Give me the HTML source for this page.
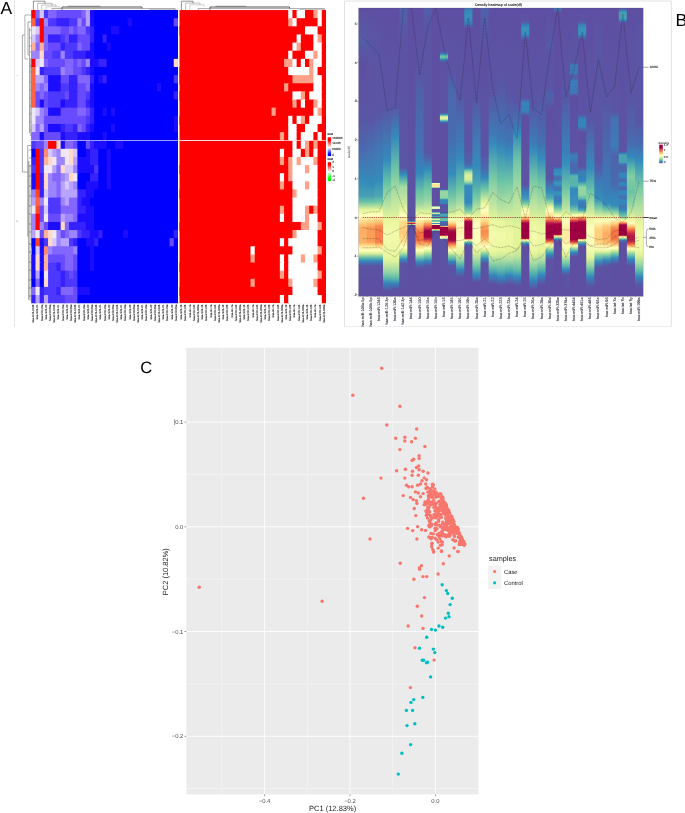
<!DOCTYPE html><html><head><meta charset="utf-8"><title>Figure</title><style>html,body{margin:0;padding:0;background:#fff;}svg{display:block}text{font-family:"Liberation Sans",sans-serif;}</style></head><body><svg width="685" height="813" viewBox="0 0 685 813" text-rendering="geometricPrecision"><rect width="685" height="813" fill="#fff"/><defs><filter id="sb" x="-2%" y="-2%" width="104%" height="104%"><feGaussianBlur stdDeviation="0.45"/></filter></defs><g id="panelA" filter="url(#sb)"><line x1="14.5" y1="0" x2="14.5" y2="327" stroke="#e6e6e6" stroke-width="1"/><clipPath id="qa0"><rect x="31.3" y="10.05" width="146.65" height="130.15"/></clipPath><g clip-path="url(#qa0)"><rect x="31.3" y="10.05" width="146.65" height="130.15" fill="#0000ff"/><rect x="31.30" y="10.05" width="5.19" height="9.13" fill="#ff0000"/><rect x="35.49" y="10.05" width="5.19" height="9.13" fill="#8266ff"/><rect x="39.68" y="10.05" width="5.19" height="9.13" fill="#d6c8ff"/><rect x="43.87" y="10.05" width="5.19" height="9.13" fill="#4e38ff"/><rect x="48.06" y="10.05" width="9.38" height="9.13" fill="#8266ff"/><rect x="56.44" y="10.05" width="26.14" height="9.13" fill="#684cff"/><rect x="81.58" y="10.05" width="5.19" height="9.13" fill="#8266ff"/><rect x="85.77" y="10.05" width="5.19" height="9.13" fill="#b8a2ff"/><rect x="89.96" y="10.05" width="5.19" height="9.13" fill="#1c0eff"/><rect x="94.15" y="10.05" width="84.80" height="9.13" fill="#0000ff"/><rect x="31.30" y="18.18" width="5.19" height="9.13" fill="#ff6444"/><rect x="35.49" y="18.18" width="5.19" height="9.13" fill="#4e38ff"/><rect x="39.68" y="18.18" width="5.19" height="9.13" fill="#ff0000"/><rect x="43.87" y="18.18" width="5.19" height="9.13" fill="#9c84ff"/><rect x="48.06" y="18.18" width="9.38" height="9.13" fill="#4e38ff"/><rect x="56.44" y="18.18" width="13.57" height="9.13" fill="#3420ff"/><rect x="69.01" y="18.18" width="9.38" height="9.13" fill="#4e38ff"/><rect x="77.39" y="18.18" width="5.19" height="9.13" fill="#9c84ff"/><rect x="81.58" y="18.18" width="5.19" height="9.13" fill="#684cff"/><rect x="85.77" y="18.18" width="5.19" height="9.13" fill="#b8a2ff"/><rect x="89.96" y="18.18" width="5.19" height="9.13" fill="#1c0eff"/><rect x="94.15" y="18.18" width="34.52" height="9.13" fill="#0000ff"/><rect x="127.67" y="18.18" width="5.19" height="9.13" fill="#1c0eff"/><rect x="131.86" y="18.18" width="42.90" height="9.13" fill="#0000ff"/><rect x="173.76" y="18.18" width="5.19" height="9.13" fill="#684cff"/><rect x="31.30" y="26.32" width="5.19" height="9.13" fill="#eee8f6"/><rect x="35.49" y="26.32" width="5.19" height="9.13" fill="#d6c8ff"/><rect x="39.68" y="26.32" width="5.19" height="9.13" fill="#ff0000"/><rect x="43.87" y="26.32" width="17.76" height="9.13" fill="#8266ff"/><rect x="60.63" y="26.32" width="9.38" height="9.13" fill="#684cff"/><rect x="69.01" y="26.32" width="5.19" height="9.13" fill="#8266ff"/><rect x="73.20" y="26.32" width="5.19" height="9.13" fill="#684cff"/><rect x="77.39" y="26.32" width="9.38" height="9.13" fill="#8266ff"/><rect x="85.77" y="26.32" width="5.19" height="9.13" fill="#4e38ff"/><rect x="89.96" y="26.32" width="5.19" height="9.13" fill="#3420ff"/><rect x="94.15" y="26.32" width="17.76" height="9.13" fill="#0000ff"/><rect x="110.91" y="26.32" width="9.38" height="9.13" fill="#1c0eff"/><rect x="119.29" y="26.32" width="59.66" height="9.13" fill="#0000ff"/><rect x="31.30" y="34.45" width="5.19" height="9.13" fill="#d6c8ff"/><rect x="35.49" y="34.45" width="5.19" height="9.13" fill="#9c84ff"/><rect x="39.68" y="34.45" width="5.19" height="9.13" fill="#ff0000"/><rect x="43.87" y="34.45" width="5.19" height="9.13" fill="#8266ff"/><rect x="48.06" y="34.45" width="13.57" height="9.13" fill="#3420ff"/><rect x="60.63" y="34.45" width="5.19" height="9.13" fill="#4e38ff"/><rect x="64.82" y="34.45" width="5.19" height="9.13" fill="#684cff"/><rect x="69.01" y="34.45" width="9.38" height="9.13" fill="#3420ff"/><rect x="77.39" y="34.45" width="13.57" height="9.13" fill="#684cff"/><rect x="89.96" y="34.45" width="5.19" height="9.13" fill="#3420ff"/><rect x="94.15" y="34.45" width="9.38" height="9.13" fill="#0000ff"/><rect x="102.53" y="34.45" width="5.19" height="9.13" fill="#3420ff"/><rect x="106.72" y="34.45" width="72.23" height="9.13" fill="#0000ff"/><rect x="31.30" y="42.59" width="5.19" height="9.13" fill="#ffb09a"/><rect x="35.49" y="42.59" width="5.19" height="9.13" fill="#8266ff"/><rect x="39.68" y="42.59" width="5.19" height="9.13" fill="#ffb09a"/><rect x="43.87" y="42.59" width="5.19" height="9.13" fill="#8266ff"/><rect x="48.06" y="42.59" width="13.57" height="9.13" fill="#684cff"/><rect x="60.63" y="42.59" width="5.19" height="9.13" fill="#3420ff"/><rect x="64.82" y="42.59" width="13.57" height="9.13" fill="#4e38ff"/><rect x="77.39" y="42.59" width="5.19" height="9.13" fill="#8266ff"/><rect x="81.58" y="42.59" width="9.38" height="9.13" fill="#684cff"/><rect x="89.96" y="42.59" width="5.19" height="9.13" fill="#1c0eff"/><rect x="94.15" y="42.59" width="13.57" height="9.13" fill="#0000ff"/><rect x="106.72" y="42.59" width="5.19" height="9.13" fill="#1c0eff"/><rect x="110.91" y="42.59" width="68.04" height="9.13" fill="#0000ff"/><rect x="31.30" y="50.72" width="9.38" height="9.13" fill="#9c84ff"/><rect x="39.68" y="50.72" width="5.19" height="9.13" fill="#ffd8c8"/><rect x="43.87" y="50.72" width="9.38" height="9.13" fill="#684cff"/><rect x="52.25" y="50.72" width="9.38" height="9.13" fill="#4e38ff"/><rect x="60.63" y="50.72" width="5.19" height="9.13" fill="#9c84ff"/><rect x="64.82" y="50.72" width="9.38" height="9.13" fill="#4e38ff"/><rect x="73.20" y="50.72" width="13.57" height="9.13" fill="#3420ff"/><rect x="85.77" y="50.72" width="9.38" height="9.13" fill="#1c0eff"/><rect x="94.15" y="50.72" width="84.80" height="9.13" fill="#0000ff"/><rect x="31.30" y="58.86" width="5.19" height="9.13" fill="#ff0000"/><rect x="35.49" y="58.86" width="5.19" height="9.13" fill="#d6c8ff"/><rect x="39.68" y="58.86" width="5.19" height="9.13" fill="#eee8f6"/><rect x="43.87" y="58.86" width="5.19" height="9.13" fill="#8266ff"/><rect x="48.06" y="58.86" width="17.76" height="9.13" fill="#684cff"/><rect x="64.82" y="58.86" width="9.38" height="9.13" fill="#8266ff"/><rect x="73.20" y="58.86" width="5.19" height="9.13" fill="#684cff"/><rect x="77.39" y="58.86" width="5.19" height="9.13" fill="#8266ff"/><rect x="81.58" y="58.86" width="5.19" height="9.13" fill="#684cff"/><rect x="85.77" y="58.86" width="5.19" height="9.13" fill="#9c84ff"/><rect x="89.96" y="58.86" width="9.38" height="9.13" fill="#1c0eff"/><rect x="98.34" y="58.86" width="9.38" height="9.13" fill="#3420ff"/><rect x="106.72" y="58.86" width="68.04" height="9.13" fill="#0000ff"/><rect x="173.76" y="58.86" width="5.19" height="9.13" fill="#ffd8c8"/><rect x="31.30" y="66.99" width="5.19" height="9.13" fill="#ff6444"/><rect x="35.49" y="66.99" width="5.19" height="9.13" fill="#eee8f6"/><rect x="39.68" y="66.99" width="5.19" height="9.13" fill="#3420ff"/><rect x="43.87" y="66.99" width="17.76" height="9.13" fill="#4e38ff"/><rect x="60.63" y="66.99" width="5.19" height="9.13" fill="#9c84ff"/><rect x="64.82" y="66.99" width="9.38" height="9.13" fill="#8266ff"/><rect x="73.20" y="66.99" width="9.38" height="9.13" fill="#684cff"/><rect x="81.58" y="66.99" width="5.19" height="9.13" fill="#4e38ff"/><rect x="85.77" y="66.99" width="5.19" height="9.13" fill="#3420ff"/><rect x="89.96" y="66.99" width="5.19" height="9.13" fill="#1c0eff"/><rect x="94.15" y="66.99" width="84.80" height="9.13" fill="#0000ff"/><rect x="31.30" y="75.12" width="5.19" height="9.13" fill="#ff6444"/><rect x="35.49" y="75.12" width="9.38" height="9.13" fill="#b8a2ff"/><rect x="43.87" y="75.12" width="5.19" height="9.13" fill="#8266ff"/><rect x="48.06" y="75.12" width="13.57" height="9.13" fill="#1c0eff"/><rect x="60.63" y="75.12" width="9.38" height="9.13" fill="#684cff"/><rect x="69.01" y="75.12" width="9.38" height="9.13" fill="#3420ff"/><rect x="77.39" y="75.12" width="13.57" height="9.13" fill="#8266ff"/><rect x="89.96" y="75.12" width="5.19" height="9.13" fill="#3420ff"/><rect x="94.15" y="75.12" width="5.19" height="9.13" fill="#0000ff"/><rect x="98.34" y="75.12" width="5.19" height="9.13" fill="#1c0eff"/><rect x="102.53" y="75.12" width="5.19" height="9.13" fill="#3420ff"/><rect x="106.72" y="75.12" width="68.04" height="9.13" fill="#0000ff"/><rect x="173.76" y="75.12" width="5.19" height="9.13" fill="#4e38ff"/><rect x="31.30" y="83.26" width="5.19" height="9.13" fill="#ff6444"/><rect x="35.49" y="83.26" width="5.19" height="9.13" fill="#9c84ff"/><rect x="39.68" y="83.26" width="5.19" height="9.13" fill="#8266ff"/><rect x="43.87" y="83.26" width="5.19" height="9.13" fill="#9c84ff"/><rect x="48.06" y="83.26" width="13.57" height="9.13" fill="#1c0eff"/><rect x="60.63" y="83.26" width="9.38" height="9.13" fill="#4e38ff"/><rect x="69.01" y="83.26" width="9.38" height="9.13" fill="#3420ff"/><rect x="77.39" y="83.26" width="9.38" height="9.13" fill="#684cff"/><rect x="85.77" y="83.26" width="5.19" height="9.13" fill="#8266ff"/><rect x="89.96" y="83.26" width="5.19" height="9.13" fill="#1c0eff"/><rect x="94.15" y="83.26" width="63.85" height="9.13" fill="#0000ff"/><rect x="157.00" y="83.26" width="5.19" height="9.13" fill="#1c0eff"/><rect x="161.19" y="83.26" width="17.76" height="9.13" fill="#0000ff"/><rect x="31.30" y="91.39" width="5.19" height="9.13" fill="#ff6444"/><rect x="35.49" y="91.39" width="5.19" height="9.13" fill="#684cff"/><rect x="39.68" y="91.39" width="5.19" height="9.13" fill="#8266ff"/><rect x="43.87" y="91.39" width="5.19" height="9.13" fill="#684cff"/><rect x="48.06" y="91.39" width="17.76" height="9.13" fill="#4e38ff"/><rect x="64.82" y="91.39" width="5.19" height="9.13" fill="#684cff"/><rect x="69.01" y="91.39" width="9.38" height="9.13" fill="#3420ff"/><rect x="77.39" y="91.39" width="9.38" height="9.13" fill="#684cff"/><rect x="85.77" y="91.39" width="5.19" height="9.13" fill="#4e38ff"/><rect x="89.96" y="91.39" width="5.19" height="9.13" fill="#1c0eff"/><rect x="94.15" y="91.39" width="80.61" height="9.13" fill="#0000ff"/><rect x="173.76" y="91.39" width="5.19" height="9.13" fill="#3420ff"/><rect x="31.30" y="99.53" width="5.19" height="9.13" fill="#ff6444"/><rect x="35.49" y="99.53" width="5.19" height="9.13" fill="#684cff"/><rect x="39.68" y="99.53" width="5.19" height="9.13" fill="#1c0eff"/><rect x="43.87" y="99.53" width="5.19" height="9.13" fill="#684cff"/><rect x="48.06" y="99.53" width="13.57" height="9.13" fill="#4e38ff"/><rect x="60.63" y="99.53" width="5.19" height="9.13" fill="#1c0eff"/><rect x="64.82" y="99.53" width="13.57" height="9.13" fill="#3420ff"/><rect x="77.39" y="99.53" width="9.38" height="9.13" fill="#684cff"/><rect x="85.77" y="99.53" width="5.19" height="9.13" fill="#3420ff"/><rect x="89.96" y="99.53" width="5.19" height="9.13" fill="#1c0eff"/><rect x="94.15" y="99.53" width="84.80" height="9.13" fill="#0000ff"/><rect x="31.30" y="107.66" width="5.19" height="9.13" fill="#eee8f6"/><rect x="35.49" y="107.66" width="5.19" height="9.13" fill="#d6c8ff"/><rect x="39.68" y="107.66" width="5.19" height="9.13" fill="#9c84ff"/><rect x="43.87" y="107.66" width="5.19" height="9.13" fill="#8266ff"/><rect x="48.06" y="107.66" width="13.57" height="9.13" fill="#1c0eff"/><rect x="60.63" y="107.66" width="17.76" height="9.13" fill="#684cff"/><rect x="77.39" y="107.66" width="9.38" height="9.13" fill="#8266ff"/><rect x="85.77" y="107.66" width="5.19" height="9.13" fill="#684cff"/><rect x="89.96" y="107.66" width="5.19" height="9.13" fill="#3420ff"/><rect x="94.15" y="107.66" width="9.38" height="9.13" fill="#0000ff"/><rect x="102.53" y="107.66" width="5.19" height="9.13" fill="#1c0eff"/><rect x="106.72" y="107.66" width="5.19" height="9.13" fill="#0000ff"/><rect x="110.91" y="107.66" width="5.19" height="9.13" fill="#1c0eff"/><rect x="115.10" y="107.66" width="63.85" height="9.13" fill="#0000ff"/><rect x="31.30" y="115.80" width="5.19" height="9.13" fill="#eee8f6"/><rect x="35.49" y="115.80" width="9.38" height="9.13" fill="#9c84ff"/><rect x="43.87" y="115.80" width="42.90" height="9.13" fill="#684cff"/><rect x="85.77" y="115.80" width="5.19" height="9.13" fill="#4e38ff"/><rect x="89.96" y="115.80" width="5.19" height="9.13" fill="#3420ff"/><rect x="94.15" y="115.80" width="80.61" height="9.13" fill="#0000ff"/><rect x="173.76" y="115.80" width="5.19" height="9.13" fill="#1c0eff"/><rect x="31.30" y="123.93" width="5.19" height="9.13" fill="#d6c8ff"/><rect x="35.49" y="123.93" width="5.19" height="9.13" fill="#8266ff"/><rect x="39.68" y="123.93" width="5.19" height="9.13" fill="#b8a2ff"/><rect x="43.87" y="123.93" width="5.19" height="9.13" fill="#684cff"/><rect x="48.06" y="123.93" width="13.57" height="9.13" fill="#1c0eff"/><rect x="60.63" y="123.93" width="5.19" height="9.13" fill="#3420ff"/><rect x="64.82" y="123.93" width="9.38" height="9.13" fill="#4e38ff"/><rect x="73.20" y="123.93" width="5.19" height="9.13" fill="#3420ff"/><rect x="77.39" y="123.93" width="5.19" height="9.13" fill="#8266ff"/><rect x="81.58" y="123.93" width="5.19" height="9.13" fill="#684cff"/><rect x="85.77" y="123.93" width="5.19" height="9.13" fill="#3420ff"/><rect x="89.96" y="123.93" width="5.19" height="9.13" fill="#1c0eff"/><rect x="94.15" y="123.93" width="17.76" height="9.13" fill="#0000ff"/><rect x="110.91" y="123.93" width="5.19" height="9.13" fill="#1c0eff"/><rect x="115.10" y="123.93" width="59.66" height="9.13" fill="#0000ff"/><rect x="173.76" y="123.93" width="5.19" height="9.13" fill="#1c0eff"/><rect x="31.30" y="132.07" width="9.38" height="9.13" fill="#8266ff"/><rect x="39.68" y="132.07" width="5.19" height="9.13" fill="#1c0eff"/><rect x="43.87" y="132.07" width="17.76" height="9.13" fill="#684cff"/><rect x="60.63" y="132.07" width="5.19" height="9.13" fill="#1c0eff"/><rect x="64.82" y="132.07" width="13.57" height="9.13" fill="#3420ff"/><rect x="77.39" y="132.07" width="13.57" height="9.13" fill="#1c0eff"/><rect x="89.96" y="132.07" width="13.57" height="9.13" fill="#0000ff"/><rect x="102.53" y="132.07" width="5.19" height="9.13" fill="#1c0eff"/><rect x="106.72" y="132.07" width="72.23" height="9.13" fill="#0000ff"/></g><clipPath id="qa1"><rect x="31.3" y="140.70" width="146.65" height="162.45"/></clipPath><g clip-path="url(#qa1)"><rect x="31.3" y="140.70" width="146.65" height="162.45" fill="#0000ff"/><rect x="31.30" y="140.70" width="5.19" height="9.12" fill="#4e38ff"/><rect x="35.49" y="140.70" width="9.38" height="9.12" fill="#684cff"/><rect x="43.87" y="140.70" width="5.19" height="9.12" fill="#9c84ff"/><rect x="48.06" y="140.70" width="9.38" height="9.12" fill="#ff0000"/><rect x="56.44" y="140.70" width="5.19" height="9.12" fill="#ffd8c8"/><rect x="60.63" y="140.70" width="5.19" height="9.12" fill="#1c0eff"/><rect x="64.82" y="140.70" width="9.38" height="9.12" fill="#8266ff"/><rect x="73.20" y="140.70" width="5.19" height="9.12" fill="#684cff"/><rect x="77.39" y="140.70" width="9.38" height="9.12" fill="#0000ff"/><rect x="85.77" y="140.70" width="5.19" height="9.12" fill="#684cff"/><rect x="89.96" y="140.70" width="5.19" height="9.12" fill="#3420ff"/><rect x="94.15" y="140.70" width="13.57" height="9.12" fill="#1c0eff"/><rect x="106.72" y="140.70" width="9.38" height="9.12" fill="#0000ff"/><rect x="115.10" y="140.70" width="9.38" height="9.12" fill="#1c0eff"/><rect x="123.48" y="140.70" width="55.47" height="9.12" fill="#0000ff"/><rect x="31.30" y="148.82" width="5.19" height="9.12" fill="#0000ff"/><rect x="35.49" y="148.82" width="5.19" height="9.12" fill="#ff0000"/><rect x="39.68" y="148.82" width="5.19" height="9.12" fill="#4e38ff"/><rect x="43.87" y="148.82" width="5.19" height="9.12" fill="#ff8a70"/><rect x="48.06" y="148.82" width="5.19" height="9.12" fill="#d6c8ff"/><rect x="52.25" y="148.82" width="5.19" height="9.12" fill="#b8a2ff"/><rect x="56.44" y="148.82" width="5.19" height="9.12" fill="#9c84ff"/><rect x="60.63" y="148.82" width="9.38" height="9.12" fill="#eee8f6"/><rect x="69.01" y="148.82" width="5.19" height="9.12" fill="#ffd8c8"/><rect x="73.20" y="148.82" width="5.19" height="9.12" fill="#d6c8ff"/><rect x="77.39" y="148.82" width="9.38" height="9.12" fill="#0000ff"/><rect x="85.77" y="148.82" width="5.19" height="9.12" fill="#1c0eff"/><rect x="89.96" y="148.82" width="9.38" height="9.12" fill="#3420ff"/><rect x="98.34" y="148.82" width="9.38" height="9.12" fill="#0000ff"/><rect x="106.72" y="148.82" width="5.19" height="9.12" fill="#1c0eff"/><rect x="110.91" y="148.82" width="68.04" height="9.12" fill="#0000ff"/><rect x="31.30" y="156.94" width="5.19" height="9.12" fill="#3420ff"/><rect x="35.49" y="156.94" width="5.19" height="9.12" fill="#ff0000"/><rect x="39.68" y="156.94" width="5.19" height="9.12" fill="#4e38ff"/><rect x="43.87" y="156.94" width="5.19" height="9.12" fill="#ffb09a"/><rect x="48.06" y="156.94" width="5.19" height="9.12" fill="#ffd8c8"/><rect x="52.25" y="156.94" width="5.19" height="9.12" fill="#eee8f6"/><rect x="56.44" y="156.94" width="9.38" height="9.12" fill="#9c84ff"/><rect x="64.82" y="156.94" width="5.19" height="9.12" fill="#eee8f6"/><rect x="69.01" y="156.94" width="5.19" height="9.12" fill="#ffd8c8"/><rect x="73.20" y="156.94" width="5.19" height="9.12" fill="#b8a2ff"/><rect x="77.39" y="156.94" width="13.57" height="9.12" fill="#1c0eff"/><rect x="89.96" y="156.94" width="9.38" height="9.12" fill="#3420ff"/><rect x="98.34" y="156.94" width="9.38" height="9.12" fill="#0000ff"/><rect x="106.72" y="156.94" width="5.19" height="9.12" fill="#1c0eff"/><rect x="110.91" y="156.94" width="68.04" height="9.12" fill="#0000ff"/><rect x="31.30" y="165.07" width="5.19" height="9.12" fill="#4e38ff"/><rect x="35.49" y="165.07" width="5.19" height="9.12" fill="#ff0000"/><rect x="39.68" y="165.07" width="5.19" height="9.12" fill="#4e38ff"/><rect x="43.87" y="165.07" width="9.38" height="9.12" fill="#eee8f6"/><rect x="52.25" y="165.07" width="5.19" height="9.12" fill="#b8a2ff"/><rect x="56.44" y="165.07" width="5.19" height="9.12" fill="#8266ff"/><rect x="60.63" y="165.07" width="5.19" height="9.12" fill="#ffd8c8"/><rect x="64.82" y="165.07" width="9.38" height="9.12" fill="#d6c8ff"/><rect x="73.20" y="165.07" width="5.19" height="9.12" fill="#9c84ff"/><rect x="77.39" y="165.07" width="17.76" height="9.12" fill="#1c0eff"/><rect x="94.15" y="165.07" width="5.19" height="9.12" fill="#4e38ff"/><rect x="98.34" y="165.07" width="9.38" height="9.12" fill="#0000ff"/><rect x="106.72" y="165.07" width="5.19" height="9.12" fill="#1c0eff"/><rect x="110.91" y="165.07" width="68.04" height="9.12" fill="#0000ff"/><rect x="31.30" y="173.19" width="5.19" height="9.12" fill="#1c0eff"/><rect x="35.49" y="173.19" width="5.19" height="9.12" fill="#ff0000"/><rect x="39.68" y="173.19" width="5.19" height="9.12" fill="#3420ff"/><rect x="43.87" y="173.19" width="5.19" height="9.12" fill="#ffd8c8"/><rect x="48.06" y="173.19" width="5.19" height="9.12" fill="#9c84ff"/><rect x="52.25" y="173.19" width="9.38" height="9.12" fill="#8266ff"/><rect x="60.63" y="173.19" width="5.19" height="9.12" fill="#9c84ff"/><rect x="64.82" y="173.19" width="5.19" height="9.12" fill="#b8a2ff"/><rect x="69.01" y="173.19" width="5.19" height="9.12" fill="#ffd8c8"/><rect x="73.20" y="173.19" width="5.19" height="9.12" fill="#eee8f6"/><rect x="77.39" y="173.19" width="13.57" height="9.12" fill="#0000ff"/><rect x="89.96" y="173.19" width="9.38" height="9.12" fill="#3420ff"/><rect x="98.34" y="173.19" width="9.38" height="9.12" fill="#0000ff"/><rect x="106.72" y="173.19" width="5.19" height="9.12" fill="#1c0eff"/><rect x="110.91" y="173.19" width="68.04" height="9.12" fill="#0000ff"/><rect x="31.30" y="181.31" width="5.19" height="9.12" fill="#1c0eff"/><rect x="35.49" y="181.31" width="5.19" height="9.12" fill="#ff0000"/><rect x="39.68" y="181.31" width="5.19" height="9.12" fill="#3420ff"/><rect x="43.87" y="181.31" width="5.19" height="9.12" fill="#ffd8c8"/><rect x="48.06" y="181.31" width="9.38" height="9.12" fill="#9c84ff"/><rect x="56.44" y="181.31" width="5.19" height="9.12" fill="#8266ff"/><rect x="60.63" y="181.31" width="5.19" height="9.12" fill="#b8a2ff"/><rect x="64.82" y="181.31" width="5.19" height="9.12" fill="#d6c8ff"/><rect x="69.01" y="181.31" width="5.19" height="9.12" fill="#b8a2ff"/><rect x="73.20" y="181.31" width="5.19" height="9.12" fill="#9c84ff"/><rect x="77.39" y="181.31" width="9.38" height="9.12" fill="#0000ff"/><rect x="85.77" y="181.31" width="13.57" height="9.12" fill="#1c0eff"/><rect x="98.34" y="181.31" width="9.38" height="9.12" fill="#0000ff"/><rect x="106.72" y="181.31" width="5.19" height="9.12" fill="#1c0eff"/><rect x="110.91" y="181.31" width="68.04" height="9.12" fill="#0000ff"/><rect x="31.30" y="189.44" width="5.19" height="9.12" fill="#9c84ff"/><rect x="35.49" y="189.44" width="5.19" height="9.12" fill="#ff4626"/><rect x="39.68" y="189.44" width="5.19" height="9.12" fill="#3420ff"/><rect x="43.87" y="189.44" width="5.19" height="9.12" fill="#d6c8ff"/><rect x="48.06" y="189.44" width="9.38" height="9.12" fill="#9c84ff"/><rect x="56.44" y="189.44" width="5.19" height="9.12" fill="#8266ff"/><rect x="60.63" y="189.44" width="17.76" height="9.12" fill="#b8a2ff"/><rect x="77.39" y="189.44" width="9.38" height="9.12" fill="#3420ff"/><rect x="85.77" y="189.44" width="9.38" height="9.12" fill="#1c0eff"/><rect x="94.15" y="189.44" width="84.80" height="9.12" fill="#0000ff"/><rect x="31.30" y="197.56" width="5.19" height="9.12" fill="#b8a2ff"/><rect x="35.49" y="197.56" width="5.19" height="9.12" fill="#ff6444"/><rect x="39.68" y="197.56" width="5.19" height="9.12" fill="#9c84ff"/><rect x="43.87" y="197.56" width="5.19" height="9.12" fill="#eee8f6"/><rect x="48.06" y="197.56" width="13.57" height="9.12" fill="#4e38ff"/><rect x="60.63" y="197.56" width="5.19" height="9.12" fill="#9c84ff"/><rect x="64.82" y="197.56" width="5.19" height="9.12" fill="#b8a2ff"/><rect x="69.01" y="197.56" width="9.38" height="9.12" fill="#8266ff"/><rect x="77.39" y="197.56" width="5.19" height="9.12" fill="#3420ff"/><rect x="81.58" y="197.56" width="9.38" height="9.12" fill="#1c0eff"/><rect x="89.96" y="197.56" width="88.99" height="9.12" fill="#0000ff"/><rect x="31.30" y="205.68" width="5.19" height="9.12" fill="#eee8f6"/><rect x="35.49" y="205.68" width="5.19" height="9.12" fill="#ff4626"/><rect x="39.68" y="205.68" width="5.19" height="9.12" fill="#684cff"/><rect x="43.87" y="205.68" width="5.19" height="9.12" fill="#d6c8ff"/><rect x="48.06" y="205.68" width="13.57" height="9.12" fill="#4e38ff"/><rect x="60.63" y="205.68" width="17.76" height="9.12" fill="#8266ff"/><rect x="77.39" y="205.68" width="9.38" height="9.12" fill="#3420ff"/><rect x="85.77" y="205.68" width="9.38" height="9.12" fill="#1c0eff"/><rect x="94.15" y="205.68" width="84.80" height="9.12" fill="#0000ff"/><rect x="31.30" y="213.80" width="5.19" height="9.12" fill="#9c84ff"/><rect x="35.49" y="213.80" width="5.19" height="9.12" fill="#ff0000"/><rect x="39.68" y="213.80" width="5.19" height="9.12" fill="#684cff"/><rect x="43.87" y="213.80" width="5.19" height="9.12" fill="#eee8f6"/><rect x="48.06" y="213.80" width="13.57" height="9.12" fill="#684cff"/><rect x="60.63" y="213.80" width="5.19" height="9.12" fill="#b8a2ff"/><rect x="64.82" y="213.80" width="9.38" height="9.12" fill="#9c84ff"/><rect x="73.20" y="213.80" width="5.19" height="9.12" fill="#8266ff"/><rect x="77.39" y="213.80" width="17.76" height="9.12" fill="#1c0eff"/><rect x="94.15" y="213.80" width="84.80" height="9.12" fill="#0000ff"/><rect x="31.30" y="221.92" width="5.19" height="9.12" fill="#9c84ff"/><rect x="35.49" y="221.92" width="5.19" height="9.12" fill="#ff0000"/><rect x="39.68" y="221.92" width="5.19" height="9.12" fill="#9c84ff"/><rect x="43.87" y="221.92" width="5.19" height="9.12" fill="#684cff"/><rect x="48.06" y="221.92" width="13.57" height="9.12" fill="#1c0eff"/><rect x="60.63" y="221.92" width="5.19" height="9.12" fill="#ffd8c8"/><rect x="64.82" y="221.92" width="5.19" height="9.12" fill="#8266ff"/><rect x="69.01" y="221.92" width="17.76" height="9.12" fill="#3420ff"/><rect x="85.77" y="221.92" width="9.38" height="9.12" fill="#1c0eff"/><rect x="94.15" y="221.92" width="84.80" height="9.12" fill="#0000ff"/><rect x="31.30" y="230.05" width="5.19" height="9.12" fill="#b8a2ff"/><rect x="35.49" y="230.05" width="5.19" height="9.12" fill="#eee8f6"/><rect x="39.68" y="230.05" width="5.19" height="9.12" fill="#684cff"/><rect x="43.87" y="230.05" width="5.19" height="9.12" fill="#ffb09a"/><rect x="48.06" y="230.05" width="5.19" height="9.12" fill="#ffd8c8"/><rect x="52.25" y="230.05" width="5.19" height="9.12" fill="#eee8f6"/><rect x="56.44" y="230.05" width="5.19" height="9.12" fill="#9c84ff"/><rect x="60.63" y="230.05" width="5.19" height="9.12" fill="#684cff"/><rect x="64.82" y="230.05" width="5.19" height="9.12" fill="#8266ff"/><rect x="69.01" y="230.05" width="9.38" height="9.12" fill="#9c84ff"/><rect x="77.39" y="230.05" width="5.19" height="9.12" fill="#4e38ff"/><rect x="81.58" y="230.05" width="9.38" height="9.12" fill="#3420ff"/><rect x="89.96" y="230.05" width="9.38" height="9.12" fill="#1c0eff"/><rect x="98.34" y="230.05" width="5.19" height="9.12" fill="#3420ff"/><rect x="102.53" y="230.05" width="21.95" height="9.12" fill="#0000ff"/><rect x="123.48" y="230.05" width="5.19" height="9.12" fill="#1c0eff"/><rect x="127.67" y="230.05" width="47.09" height="9.12" fill="#0000ff"/><rect x="173.76" y="230.05" width="5.19" height="9.12" fill="#3420ff"/><rect x="31.30" y="238.17" width="5.19" height="9.12" fill="#0000ff"/><rect x="35.49" y="238.17" width="5.19" height="9.12" fill="#ff4626"/><rect x="39.68" y="238.17" width="5.19" height="9.12" fill="#1c0eff"/><rect x="43.87" y="238.17" width="5.19" height="9.12" fill="#4e38ff"/><rect x="48.06" y="238.17" width="5.19" height="9.12" fill="#ffd8c8"/><rect x="52.25" y="238.17" width="5.19" height="9.12" fill="#d6c8ff"/><rect x="56.44" y="238.17" width="5.19" height="9.12" fill="#9c84ff"/><rect x="60.63" y="238.17" width="9.38" height="9.12" fill="#b8a2ff"/><rect x="69.01" y="238.17" width="5.19" height="9.12" fill="#4e38ff"/><rect x="73.20" y="238.17" width="5.19" height="9.12" fill="#3420ff"/><rect x="77.39" y="238.17" width="9.38" height="9.12" fill="#0000ff"/><rect x="85.77" y="238.17" width="9.38" height="9.12" fill="#1c0eff"/><rect x="94.15" y="238.17" width="5.19" height="9.12" fill="#3420ff"/><rect x="98.34" y="238.17" width="72.23" height="9.12" fill="#0000ff"/><rect x="169.57" y="238.17" width="5.19" height="9.12" fill="#684cff"/><rect x="173.76" y="238.17" width="5.19" height="9.12" fill="#0000ff"/><rect x="35.49" y="246.29" width="5.19" height="9.12" fill="#d6c8ff"/><rect x="39.68" y="246.29" width="5.19" height="9.12" fill="#1c0eff"/><rect x="43.87" y="246.29" width="5.19" height="9.12" fill="#ff8a70"/><rect x="48.06" y="246.29" width="5.19" height="9.12" fill="#9c84ff"/><rect x="52.25" y="246.29" width="21.95" height="9.12" fill="#8266ff"/><rect x="73.20" y="246.29" width="5.19" height="9.12" fill="#9c84ff"/><rect x="77.39" y="246.29" width="13.57" height="9.12" fill="#0000ff"/><rect x="89.96" y="246.29" width="5.19" height="9.12" fill="#1c0eff"/><rect x="94.15" y="246.29" width="84.80" height="9.12" fill="#0000ff"/><rect x="31.30" y="254.41" width="5.19" height="9.12" fill="#1c0eff"/><rect x="35.49" y="254.41" width="5.19" height="9.12" fill="#ffd8c8"/><rect x="39.68" y="254.41" width="5.19" height="9.12" fill="#1c0eff"/><rect x="43.87" y="254.41" width="5.19" height="9.12" fill="#ffb09a"/><rect x="48.06" y="254.41" width="17.76" height="9.12" fill="#684cff"/><rect x="64.82" y="254.41" width="9.38" height="9.12" fill="#8266ff"/><rect x="73.20" y="254.41" width="5.19" height="9.12" fill="#684cff"/><rect x="77.39" y="254.41" width="13.57" height="9.12" fill="#0000ff"/><rect x="89.96" y="254.41" width="5.19" height="9.12" fill="#1c0eff"/><rect x="94.15" y="254.41" width="84.80" height="9.12" fill="#0000ff"/><rect x="31.30" y="262.54" width="5.19" height="9.12" fill="#1c0eff"/><rect x="35.49" y="262.54" width="5.19" height="9.12" fill="#ffd8c8"/><rect x="39.68" y="262.54" width="5.19" height="9.12" fill="#1c0eff"/><rect x="43.87" y="262.54" width="5.19" height="9.12" fill="#ffb09a"/><rect x="48.06" y="262.54" width="9.38" height="9.12" fill="#4e38ff"/><rect x="56.44" y="262.54" width="5.19" height="9.12" fill="#3420ff"/><rect x="60.63" y="262.54" width="5.19" height="9.12" fill="#684cff"/><rect x="64.82" y="262.54" width="9.38" height="9.12" fill="#8266ff"/><rect x="73.20" y="262.54" width="5.19" height="9.12" fill="#684cff"/><rect x="77.39" y="262.54" width="13.57" height="9.12" fill="#0000ff"/><rect x="89.96" y="262.54" width="5.19" height="9.12" fill="#1c0eff"/><rect x="94.15" y="262.54" width="84.80" height="9.12" fill="#0000ff"/><rect x="31.30" y="270.66" width="5.19" height="9.12" fill="#1c0eff"/><rect x="35.49" y="270.66" width="5.19" height="9.12" fill="#b8a2ff"/><rect x="39.68" y="270.66" width="5.19" height="9.12" fill="#0000ff"/><rect x="43.87" y="270.66" width="5.19" height="9.12" fill="#eee8f6"/><rect x="48.06" y="270.66" width="13.57" height="9.12" fill="#4e38ff"/><rect x="60.63" y="270.66" width="5.19" height="9.12" fill="#3420ff"/><rect x="64.82" y="270.66" width="5.19" height="9.12" fill="#4e38ff"/><rect x="69.01" y="270.66" width="5.19" height="9.12" fill="#684cff"/><rect x="73.20" y="270.66" width="5.19" height="9.12" fill="#4e38ff"/><rect x="77.39" y="270.66" width="101.56" height="9.12" fill="#0000ff"/><rect x="31.30" y="278.78" width="5.19" height="9.12" fill="#0000ff"/><rect x="35.49" y="278.78" width="5.19" height="9.12" fill="#8266ff"/><rect x="39.68" y="278.78" width="5.19" height="9.12" fill="#0000ff"/><rect x="43.87" y="278.78" width="5.19" height="9.12" fill="#ffd8c8"/><rect x="48.06" y="278.78" width="13.57" height="9.12" fill="#4e38ff"/><rect x="60.63" y="278.78" width="5.19" height="9.12" fill="#3420ff"/><rect x="64.82" y="278.78" width="13.57" height="9.12" fill="#4e38ff"/><rect x="77.39" y="278.78" width="101.56" height="9.12" fill="#0000ff"/><rect x="31.30" y="286.90" width="5.19" height="9.12" fill="#8266ff"/><rect x="35.49" y="286.90" width="5.19" height="9.12" fill="#eee8f6"/><rect x="39.68" y="286.90" width="5.19" height="9.12" fill="#3420ff"/><rect x="43.87" y="286.90" width="13.57" height="9.12" fill="#4e38ff"/><rect x="56.44" y="286.90" width="5.19" height="9.12" fill="#3420ff"/><rect x="60.63" y="286.90" width="13.57" height="9.12" fill="#8266ff"/><rect x="73.20" y="286.90" width="5.19" height="9.12" fill="#684cff"/><rect x="77.39" y="286.90" width="13.57" height="9.12" fill="#1c0eff"/><rect x="89.96" y="286.90" width="88.99" height="9.12" fill="#0000ff"/><rect x="31.30" y="295.03" width="5.19" height="9.12" fill="#3420ff"/><rect x="35.49" y="295.03" width="5.19" height="9.12" fill="#b8a2ff"/><rect x="39.68" y="295.03" width="5.19" height="9.12" fill="#3420ff"/><rect x="43.87" y="295.03" width="5.19" height="9.12" fill="#b8a2ff"/><rect x="48.06" y="295.03" width="17.76" height="9.12" fill="#4e38ff"/><rect x="64.82" y="295.03" width="13.57" height="9.12" fill="#684cff"/><rect x="77.39" y="295.03" width="101.56" height="9.12" fill="#0000ff"/></g><clipPath id="qa2"><rect x="179.3" y="10.05" width="146.65" height="130.15"/></clipPath><g clip-path="url(#qa2)"><rect x="179.3" y="10.05" width="146.65" height="130.15" fill="#ff0000"/><rect x="288.24" y="10.05" width="5.19" height="9.13" fill="#ffffff"/><rect x="292.43" y="10.05" width="5.19" height="9.13" fill="#ff0000"/><rect x="296.62" y="10.05" width="9.38" height="9.13" fill="#ffffff"/><rect x="305.00" y="10.05" width="9.38" height="9.13" fill="#ff0000"/><rect x="313.38" y="10.05" width="5.19" height="9.13" fill="#ffa088"/><rect x="317.57" y="10.05" width="5.19" height="9.13" fill="#ffffff"/><rect x="321.76" y="10.05" width="5.19" height="9.13" fill="#ff0000"/><rect x="288.24" y="18.18" width="5.19" height="9.13" fill="#ffa088"/><rect x="292.43" y="18.18" width="5.19" height="9.13" fill="#ffffff"/><rect x="296.62" y="18.18" width="21.95" height="9.13" fill="#ff0000"/><rect x="317.57" y="18.18" width="5.19" height="9.13" fill="#ffffff"/><rect x="321.76" y="18.18" width="5.19" height="9.13" fill="#ff0000"/><rect x="179.30" y="26.32" width="126.70" height="9.13" fill="#ff0000"/><rect x="305.00" y="26.32" width="13.57" height="9.13" fill="#ffffff"/><rect x="317.57" y="26.32" width="9.38" height="9.13" fill="#ff0000"/><rect x="296.62" y="34.45" width="5.19" height="9.13" fill="#ffffff"/><rect x="300.81" y="34.45" width="13.57" height="9.13" fill="#ff0000"/><rect x="313.38" y="34.45" width="5.19" height="9.13" fill="#ffffff"/><rect x="317.57" y="34.45" width="5.19" height="9.13" fill="#ffa088"/><rect x="321.76" y="34.45" width="5.19" height="9.13" fill="#ff0000"/><rect x="292.43" y="42.59" width="5.19" height="9.13" fill="#ffffff"/><rect x="296.62" y="42.59" width="5.19" height="9.13" fill="#ffa088"/><rect x="300.81" y="42.59" width="13.57" height="9.13" fill="#ff0000"/><rect x="313.38" y="42.59" width="9.38" height="9.13" fill="#ffffff"/><rect x="321.76" y="42.59" width="5.19" height="9.13" fill="#ff0000"/><rect x="288.24" y="50.72" width="5.19" height="9.13" fill="#ffffff"/><rect x="292.43" y="50.72" width="13.57" height="9.13" fill="#ff0000"/><rect x="305.00" y="50.72" width="9.38" height="9.13" fill="#ffffff"/><rect x="313.38" y="50.72" width="5.19" height="9.13" fill="#ffa088"/><rect x="317.57" y="50.72" width="5.19" height="9.13" fill="#ffffff"/><rect x="321.76" y="50.72" width="5.19" height="9.13" fill="#ff0000"/><rect x="284.05" y="58.86" width="9.38" height="9.13" fill="#ffa088"/><rect x="292.43" y="58.86" width="5.19" height="9.13" fill="#ffffff"/><rect x="296.62" y="58.86" width="5.19" height="9.13" fill="#ff0000"/><rect x="300.81" y="58.86" width="5.19" height="9.13" fill="#ffffff"/><rect x="305.00" y="58.86" width="5.19" height="9.13" fill="#ff0000"/><rect x="309.19" y="58.86" width="5.19" height="9.13" fill="#ffa088"/><rect x="313.38" y="58.86" width="9.38" height="9.13" fill="#ffffff"/><rect x="321.76" y="58.86" width="5.19" height="9.13" fill="#ff0000"/><rect x="179.30" y="66.99" width="109.94" height="9.13" fill="#ff0000"/><rect x="288.24" y="66.99" width="21.95" height="9.13" fill="#ffffff"/><rect x="309.19" y="66.99" width="5.19" height="9.13" fill="#ffa088"/><rect x="313.38" y="66.99" width="5.19" height="9.13" fill="#ffffff"/><rect x="317.57" y="66.99" width="9.38" height="9.13" fill="#ff0000"/><rect x="179.30" y="75.12" width="114.13" height="9.13" fill="#ff0000"/><rect x="292.43" y="75.12" width="21.95" height="9.13" fill="#ffa088"/><rect x="313.38" y="75.12" width="9.38" height="9.13" fill="#ffffff"/><rect x="321.76" y="75.12" width="5.19" height="9.13" fill="#ff0000"/><rect x="284.05" y="83.26" width="5.19" height="9.13" fill="#ffa088"/><rect x="288.24" y="83.26" width="26.14" height="9.13" fill="#ff0000"/><rect x="313.38" y="83.26" width="9.38" height="9.13" fill="#ffffff"/><rect x="321.76" y="83.26" width="5.19" height="9.13" fill="#ff0000"/><rect x="179.30" y="91.39" width="114.13" height="9.13" fill="#ff0000"/><rect x="292.43" y="91.39" width="9.38" height="9.13" fill="#ffffff"/><rect x="300.81" y="91.39" width="5.19" height="9.13" fill="#ffa088"/><rect x="305.00" y="91.39" width="5.19" height="9.13" fill="#ff0000"/><rect x="309.19" y="91.39" width="13.57" height="9.13" fill="#ffffff"/><rect x="321.76" y="91.39" width="5.19" height="9.13" fill="#ff0000"/><rect x="292.43" y="99.53" width="5.19" height="9.13" fill="#ffa088"/><rect x="296.62" y="99.53" width="5.19" height="9.13" fill="#ff0000"/><rect x="300.81" y="99.53" width="5.19" height="9.13" fill="#ffffff"/><rect x="305.00" y="99.53" width="9.38" height="9.13" fill="#ff0000"/><rect x="313.38" y="99.53" width="5.19" height="9.13" fill="#ffa088"/><rect x="317.57" y="99.53" width="5.19" height="9.13" fill="#ffffff"/><rect x="321.76" y="99.53" width="5.19" height="9.13" fill="#ff0000"/><rect x="271.48" y="107.66" width="5.19" height="9.13" fill="#ffa088"/><rect x="275.67" y="107.66" width="38.71" height="9.13" fill="#ff0000"/><rect x="313.38" y="107.66" width="5.19" height="9.13" fill="#ffffff"/><rect x="317.57" y="107.66" width="5.19" height="9.13" fill="#ffa088"/><rect x="321.76" y="107.66" width="5.19" height="9.13" fill="#ff0000"/><rect x="179.30" y="115.80" width="109.94" height="9.13" fill="#ff0000"/><rect x="288.24" y="115.80" width="5.19" height="9.13" fill="#ffffff"/><rect x="292.43" y="115.80" width="5.19" height="9.13" fill="#ff0000"/><rect x="296.62" y="115.80" width="5.19" height="9.13" fill="#ffffff"/><rect x="300.81" y="115.80" width="5.19" height="9.13" fill="#ffa088"/><rect x="305.00" y="115.80" width="5.19" height="9.13" fill="#ff0000"/><rect x="309.19" y="115.80" width="13.57" height="9.13" fill="#ffffff"/><rect x="321.76" y="115.80" width="5.19" height="9.13" fill="#ff0000"/><rect x="288.24" y="123.93" width="9.38" height="9.13" fill="#ffffff"/><rect x="296.62" y="123.93" width="9.38" height="9.13" fill="#ff0000"/><rect x="305.00" y="123.93" width="13.57" height="9.13" fill="#ffffff"/><rect x="317.57" y="123.93" width="9.38" height="9.13" fill="#ff0000"/><rect x="279.86" y="132.07" width="5.19" height="9.13" fill="#ffa088"/><rect x="284.05" y="132.07" width="5.19" height="9.13" fill="#ff0000"/><rect x="288.24" y="132.07" width="9.38" height="9.13" fill="#ffffff"/><rect x="296.62" y="132.07" width="5.19" height="9.13" fill="#ff0000"/><rect x="300.81" y="132.07" width="13.57" height="9.13" fill="#ffffff"/><rect x="313.38" y="132.07" width="5.19" height="9.13" fill="#ff0000"/><rect x="317.57" y="132.07" width="5.19" height="9.13" fill="#ffffff"/><rect x="321.76" y="132.07" width="5.19" height="9.13" fill="#ff0000"/></g><clipPath id="qa3"><rect x="179.3" y="140.70" width="146.65" height="162.45"/></clipPath><g clip-path="url(#qa3)"><rect x="179.3" y="140.70" width="146.65" height="162.45" fill="#ff0000"/><rect x="292.43" y="140.70" width="5.19" height="9.12" fill="#ffffff"/><rect x="296.62" y="140.70" width="5.19" height="9.12" fill="#ff0000"/><rect x="300.81" y="140.70" width="5.19" height="9.12" fill="#ffffff"/><rect x="305.00" y="140.70" width="5.19" height="9.12" fill="#ffa088"/><rect x="309.19" y="140.70" width="5.19" height="9.12" fill="#ff0000"/><rect x="313.38" y="140.70" width="5.19" height="9.12" fill="#ffa088"/><rect x="317.57" y="140.70" width="9.38" height="9.12" fill="#ff0000"/><rect x="279.86" y="148.82" width="5.19" height="9.12" fill="#ffffff"/><rect x="284.05" y="148.82" width="9.38" height="9.12" fill="#ff0000"/><rect x="292.43" y="148.82" width="9.38" height="9.12" fill="#ffffff"/><rect x="300.81" y="148.82" width="5.19" height="9.12" fill="#ff0000"/><rect x="305.00" y="148.82" width="5.19" height="9.12" fill="#ffa088"/><rect x="309.19" y="148.82" width="5.19" height="9.12" fill="#ff0000"/><rect x="313.38" y="148.82" width="5.19" height="9.12" fill="#ffffff"/><rect x="317.57" y="148.82" width="9.38" height="9.12" fill="#ff0000"/><rect x="279.86" y="156.94" width="5.19" height="9.12" fill="#ffa088"/><rect x="284.05" y="156.94" width="5.19" height="9.12" fill="#ff0000"/><rect x="288.24" y="156.94" width="5.19" height="9.12" fill="#ffa088"/><rect x="292.43" y="156.94" width="5.19" height="9.12" fill="#ffffff"/><rect x="296.62" y="156.94" width="5.19" height="9.12" fill="#ffa088"/><rect x="300.81" y="156.94" width="13.57" height="9.12" fill="#ffffff"/><rect x="313.38" y="156.94" width="5.19" height="9.12" fill="#ffa088"/><rect x="317.57" y="156.94" width="9.38" height="9.12" fill="#ff0000"/><rect x="179.30" y="165.07" width="109.94" height="9.12" fill="#ff0000"/><rect x="288.24" y="165.07" width="5.19" height="9.12" fill="#ffa088"/><rect x="292.43" y="165.07" width="13.57" height="9.12" fill="#ffffff"/><rect x="305.00" y="165.07" width="5.19" height="9.12" fill="#ffa088"/><rect x="309.19" y="165.07" width="9.38" height="9.12" fill="#ffffff"/><rect x="317.57" y="165.07" width="9.38" height="9.12" fill="#ff0000"/><rect x="279.86" y="173.19" width="5.19" height="9.12" fill="#ffffff"/><rect x="284.05" y="173.19" width="5.19" height="9.12" fill="#ff0000"/><rect x="288.24" y="173.19" width="5.19" height="9.12" fill="#ffa088"/><rect x="292.43" y="173.19" width="26.14" height="9.12" fill="#ffffff"/><rect x="317.57" y="173.19" width="9.38" height="9.12" fill="#ff0000"/><rect x="279.86" y="181.31" width="5.19" height="9.12" fill="#ffa088"/><rect x="284.05" y="181.31" width="9.38" height="9.12" fill="#ff0000"/><rect x="292.43" y="181.31" width="13.57" height="9.12" fill="#ffffff"/><rect x="305.00" y="181.31" width="5.19" height="9.12" fill="#ffa088"/><rect x="309.19" y="181.31" width="9.38" height="9.12" fill="#ffffff"/><rect x="317.57" y="181.31" width="9.38" height="9.12" fill="#ff0000"/><rect x="179.30" y="189.44" width="114.13" height="9.12" fill="#ff0000"/><rect x="292.43" y="189.44" width="5.19" height="9.12" fill="#ffa088"/><rect x="296.62" y="189.44" width="21.95" height="9.12" fill="#ffffff"/><rect x="317.57" y="189.44" width="9.38" height="9.12" fill="#ff0000"/><rect x="292.43" y="197.56" width="26.14" height="9.12" fill="#ffffff"/><rect x="317.57" y="197.56" width="9.38" height="9.12" fill="#ff0000"/><rect x="279.86" y="205.68" width="5.19" height="9.12" fill="#ffa088"/><rect x="284.05" y="205.68" width="9.38" height="9.12" fill="#ff0000"/><rect x="292.43" y="205.68" width="13.57" height="9.12" fill="#ffffff"/><rect x="305.00" y="205.68" width="5.19" height="9.12" fill="#ffa088"/><rect x="309.19" y="205.68" width="5.19" height="9.12" fill="#ff0000"/><rect x="313.38" y="205.68" width="5.19" height="9.12" fill="#ffa088"/><rect x="317.57" y="205.68" width="9.38" height="9.12" fill="#ff0000"/><rect x="279.86" y="213.80" width="5.19" height="9.12" fill="#ffffff"/><rect x="284.05" y="213.80" width="9.38" height="9.12" fill="#ff0000"/><rect x="292.43" y="213.80" width="13.57" height="9.12" fill="#ffffff"/><rect x="305.00" y="213.80" width="5.19" height="9.12" fill="#ffa088"/><rect x="309.19" y="213.80" width="9.38" height="9.12" fill="#ffffff"/><rect x="317.57" y="213.80" width="9.38" height="9.12" fill="#ff0000"/><rect x="179.30" y="221.92" width="122.51" height="9.12" fill="#ff0000"/><rect x="300.81" y="221.92" width="9.38" height="9.12" fill="#ffa088"/><rect x="309.19" y="221.92" width="9.38" height="9.12" fill="#ffffff"/><rect x="317.57" y="221.92" width="5.19" height="9.12" fill="#ffa088"/><rect x="321.76" y="221.92" width="5.19" height="9.12" fill="#ff0000"/><rect x="292.43" y="230.05" width="5.19" height="9.12" fill="#ffa088"/><rect x="296.62" y="230.05" width="21.95" height="9.12" fill="#ffffff"/><rect x="317.57" y="230.05" width="9.38" height="9.12" fill="#ff0000"/><rect x="279.86" y="238.17" width="5.19" height="9.12" fill="#ffffff"/><rect x="284.05" y="238.17" width="5.19" height="9.12" fill="#ff0000"/><rect x="288.24" y="238.17" width="30.33" height="9.12" fill="#ffffff"/><rect x="317.57" y="238.17" width="9.38" height="9.12" fill="#ff0000"/><rect x="250.53" y="246.29" width="5.19" height="9.12" fill="#ffffff"/><rect x="254.72" y="246.29" width="38.71" height="9.12" fill="#ff0000"/><rect x="292.43" y="246.29" width="26.14" height="9.12" fill="#ffffff"/><rect x="317.57" y="246.29" width="5.19" height="9.12" fill="#ffa088"/><rect x="321.76" y="246.29" width="5.19" height="9.12" fill="#ff0000"/><rect x="250.53" y="254.41" width="5.19" height="9.12" fill="#ffa088"/><rect x="254.72" y="254.41" width="26.14" height="9.12" fill="#ff0000"/><rect x="279.86" y="254.41" width="5.19" height="9.12" fill="#ffffff"/><rect x="284.05" y="254.41" width="5.19" height="9.12" fill="#ff0000"/><rect x="288.24" y="254.41" width="13.57" height="9.12" fill="#ffffff"/><rect x="300.81" y="254.41" width="5.19" height="9.12" fill="#ffa088"/><rect x="305.00" y="254.41" width="9.38" height="9.12" fill="#ffffff"/><rect x="313.38" y="254.41" width="5.19" height="9.12" fill="#ffa088"/><rect x="317.57" y="254.41" width="9.38" height="9.12" fill="#ff0000"/><rect x="179.30" y="262.54" width="101.56" height="9.12" fill="#ff0000"/><rect x="279.86" y="262.54" width="5.19" height="9.12" fill="#ffffff"/><rect x="284.05" y="262.54" width="5.19" height="9.12" fill="#ff0000"/><rect x="288.24" y="262.54" width="30.33" height="9.12" fill="#ffffff"/><rect x="317.57" y="262.54" width="9.38" height="9.12" fill="#ff0000"/><rect x="279.86" y="270.66" width="5.19" height="9.12" fill="#ffa088"/><rect x="284.05" y="270.66" width="5.19" height="9.12" fill="#ff0000"/><rect x="288.24" y="270.66" width="30.33" height="9.12" fill="#ffffff"/><rect x="317.57" y="270.66" width="5.19" height="9.12" fill="#ffa088"/><rect x="321.76" y="270.66" width="5.19" height="9.12" fill="#ff0000"/><rect x="250.53" y="278.78" width="5.19" height="9.12" fill="#ffa088"/><rect x="254.72" y="278.78" width="34.52" height="9.12" fill="#ff0000"/><rect x="288.24" y="278.78" width="5.19" height="9.12" fill="#ffa088"/><rect x="292.43" y="278.78" width="21.95" height="9.12" fill="#ffffff"/><rect x="313.38" y="278.78" width="5.19" height="9.12" fill="#ffa088"/><rect x="317.57" y="278.78" width="9.38" height="9.12" fill="#ff0000"/><rect x="179.30" y="286.90" width="114.13" height="9.12" fill="#ff0000"/><rect x="292.43" y="286.90" width="26.14" height="9.12" fill="#ffffff"/><rect x="317.57" y="286.90" width="9.38" height="9.12" fill="#ff0000"/><rect x="279.86" y="295.03" width="5.19" height="9.12" fill="#ffffff"/><rect x="284.05" y="295.03" width="5.19" height="9.12" fill="#ff0000"/><rect x="288.24" y="295.03" width="34.52" height="9.12" fill="#ffffff"/><rect x="321.76" y="295.03" width="5.19" height="9.12" fill="#ff0000"/></g><g opacity=".9"><path d="M33.4 10V1.2H45V4" stroke="#555" stroke-width="0.7" fill="none"/><path d="M37.6 10V3.3H52V6" stroke="#888" stroke-width="0.6" fill="none"/><path d="M41.8 10V5H56V7.5" stroke="#999" stroke-width="0.6" fill="none"/><path d="M46 10V6.8H60V8.5" stroke="#aaa" stroke-width="0.6" fill="none"/><path d="M62 9.8V7.0H142V8.6" stroke="#333" stroke-width="0.9" fill="none"/><path d="M68 7V6.3H100V7" stroke="#555" stroke-width="0.7" fill="none"/><path d="M52 9.8V8.6H175V9.8" stroke="#777" stroke-width="0.7" fill="none"/><path d="M150 9.9V9.3H176V9.7" stroke="#888" stroke-width="0.6" fill="none"/><path d="M181.4 10V1.2H193V3.5" stroke="#555" stroke-width="0.7" fill="none"/><path d="M185.6 10V3H200V5" stroke="#888" stroke-width="0.6" fill="none"/><path d="M189.8 10V4.8H204V7" stroke="#aaa" stroke-width="0.6" fill="none"/><path d="M210 9.8V7.0H289.5V8.6" stroke="#333" stroke-width="0.9" fill="none"/><path d="M216 7V6.3H246V7" stroke="#555" stroke-width="0.7" fill="none"/><path d="M198 9.8V8.6H324.5V9.8" stroke="#777" stroke-width="0.7" fill="none"/><path d="M300 9.9V9.3H324V9.7" stroke="#888" stroke-width="0.6" fill="none"/><path d="M24.9 35H22.4V172H27.7" stroke="#777" stroke-width=".7" fill="none"/><path d="M31 15H24.9V59H28" stroke="#888" stroke-width="0.7" fill="none"/><path d="M31 22H28V55H29.5" stroke="#777" stroke-width="0.7" fill="none"/><path d="M29.5 28V133" stroke="#888" stroke-width=".8" fill="none"/><path d="M30.4 58V136" stroke="#777" stroke-width=".6" fill="none"/><path d="M29.5 30H31.2" stroke="#666" stroke-width=".6"/><path d="M29.5 38H31.2" stroke="#666" stroke-width=".6"/><path d="M29.5 46H31.2" stroke="#666" stroke-width=".6"/><path d="M29.5 52H31.2" stroke="#666" stroke-width=".6"/><path d="M29.5 66H31.2" stroke="#666" stroke-width=".6"/><path d="M29.5 72H31.2" stroke="#666" stroke-width=".6"/><path d="M29.5 82H31.2" stroke="#666" stroke-width=".6"/><path d="M29.5 90H31.2" stroke="#666" stroke-width=".6"/><path d="M29.5 98H31.2" stroke="#666" stroke-width=".6"/><path d="M29.5 106H31.2" stroke="#666" stroke-width=".6"/><path d="M29.5 114H31.2" stroke="#666" stroke-width=".6"/><path d="M29.5 122H31.2" stroke="#666" stroke-width=".6"/><path d="M29.5 130H31.2" stroke="#666" stroke-width=".6"/><path d="M31 145.5H27.7V236H28.8" stroke="#777" stroke-width="0.7" fill="none"/><path d="M28.8 161V300" stroke="#555" stroke-width=".75" fill="none"/><path d="M30.1 165V301" stroke="#777" stroke-width=".6" fill="none"/><path d="M28.8 150H31.2" stroke="#555" stroke-width=".6"/><path d="M28.8 158H31.2" stroke="#555" stroke-width=".6"/><path d="M28.8 166H31.2" stroke="#555" stroke-width=".6"/><path d="M28.8 176H31.2" stroke="#555" stroke-width=".6"/><path d="M28.8 186H31.2" stroke="#555" stroke-width=".6"/><path d="M28.8 196H31.2" stroke="#555" stroke-width=".6"/><path d="M28.8 206H31.2" stroke="#555" stroke-width=".6"/><path d="M28.8 214H31.2" stroke="#555" stroke-width=".6"/><path d="M28.8 224H31.2" stroke="#555" stroke-width=".6"/><path d="M28.8 232H31.2" stroke="#555" stroke-width=".6"/><path d="M28.8 244H31.2" stroke="#555" stroke-width=".6"/><path d="M28.8 252H31.2" stroke="#555" stroke-width=".6"/><path d="M28.8 262H31.2" stroke="#555" stroke-width=".6"/><path d="M28.8 270H31.2" stroke="#555" stroke-width=".6"/><path d="M28.8 280H31.2" stroke="#555" stroke-width=".6"/><path d="M28.8 288H31.2" stroke="#555" stroke-width=".6"/><path d="M28.8 296H31.2" stroke="#555" stroke-width=".6"/></g><text x="18" y="76" font-size="2.6" fill="#666" transform="rotate(-90 18 76)">1</text><text x="18.4" y="222" font-size="2.6" fill="#666" transform="rotate(-90 18.4 222)">2</text><text x="34.30" y="304.6" font-size="2.9" fill="#222" stroke="#222" stroke-width=".1" text-anchor="end" transform="rotate(-90 34.30 304.6)">hsa-miR-1246</text><text x="182.30" y="304.6" font-size="2.9" fill="#222" stroke="#222" stroke-width=".1" text-anchor="end" transform="rotate(-90 182.30 304.6)">hsa-miR-16</text><text x="38.48" y="304.6" font-size="2.9" fill="#222" stroke="#222" stroke-width=".1" text-anchor="end" transform="rotate(-90 38.48 304.6)">hsa-miR-21</text><text x="186.49" y="304.6" font-size="2.9" fill="#222" stroke="#222" stroke-width=".1" text-anchor="end" transform="rotate(-90 186.49 304.6)">hsa-miR-126</text><text x="42.68" y="304.6" font-size="2.9" fill="#222" stroke="#222" stroke-width=".1" text-anchor="end" transform="rotate(-90 42.68 304.6)">hsa-miR-15a</text><text x="190.68" y="304.6" font-size="2.9" fill="#222" stroke="#222" stroke-width=".1" text-anchor="end" transform="rotate(-90 190.68 304.6)">hsa-let-7a</text><text x="46.87" y="304.6" font-size="2.9" fill="#222" stroke="#222" stroke-width=".1" text-anchor="end" transform="rotate(-90 46.87 304.6)">hsa-miR-22</text><text x="194.87" y="304.6" font-size="2.9" fill="#222" stroke="#222" stroke-width=".1" text-anchor="end" transform="rotate(-90 194.87 304.6)">hsa-miR-145</text><text x="51.05" y="304.6" font-size="2.9" fill="#222" stroke="#222" stroke-width=".1" text-anchor="end" transform="rotate(-90 51.05 304.6)">hsa-miR-29a</text><text x="199.06" y="304.6" font-size="2.9" fill="#222" stroke="#222" stroke-width=".1" text-anchor="end" transform="rotate(-90 199.06 304.6)">hsa-miR-106a</text><text x="55.24" y="304.6" font-size="2.9" fill="#222" stroke="#222" stroke-width=".1" text-anchor="end" transform="rotate(-90 55.24 304.6)">hsa-miR-1246</text><text x="203.25" y="304.6" font-size="2.9" fill="#222" stroke="#222" stroke-width=".1" text-anchor="end" transform="rotate(-90 203.25 304.6)">hsa-miR-16</text><text x="59.44" y="304.6" font-size="2.9" fill="#222" stroke="#222" stroke-width=".1" text-anchor="end" transform="rotate(-90 59.44 304.6)">hsa-miR-21</text><text x="207.44" y="304.6" font-size="2.9" fill="#222" stroke="#222" stroke-width=".1" text-anchor="end" transform="rotate(-90 207.44 304.6)">hsa-miR-126</text><text x="63.63" y="304.6" font-size="2.9" fill="#222" stroke="#222" stroke-width=".1" text-anchor="end" transform="rotate(-90 63.63 304.6)">hsa-miR-15a</text><text x="211.63" y="304.6" font-size="2.9" fill="#222" stroke="#222" stroke-width=".1" text-anchor="end" transform="rotate(-90 211.63 304.6)">hsa-let-7a</text><text x="67.82" y="304.6" font-size="2.9" fill="#222" stroke="#222" stroke-width=".1" text-anchor="end" transform="rotate(-90 67.82 304.6)">hsa-miR-22</text><text x="215.82" y="304.6" font-size="2.9" fill="#222" stroke="#222" stroke-width=".1" text-anchor="end" transform="rotate(-90 215.82 304.6)">hsa-miR-145</text><text x="72.01" y="304.6" font-size="2.9" fill="#222" stroke="#222" stroke-width=".1" text-anchor="end" transform="rotate(-90 72.01 304.6)">hsa-miR-29a</text><text x="220.01" y="304.6" font-size="2.9" fill="#222" stroke="#222" stroke-width=".1" text-anchor="end" transform="rotate(-90 220.01 304.6)">hsa-miR-106a</text><text x="76.20" y="304.6" font-size="2.9" fill="#222" stroke="#222" stroke-width=".1" text-anchor="end" transform="rotate(-90 76.20 304.6)">hsa-miR-1246</text><text x="224.20" y="304.6" font-size="2.9" fill="#222" stroke="#222" stroke-width=".1" text-anchor="end" transform="rotate(-90 224.20 304.6)">hsa-miR-16</text><text x="80.39" y="304.6" font-size="2.9" fill="#222" stroke="#222" stroke-width=".1" text-anchor="end" transform="rotate(-90 80.39 304.6)">hsa-miR-21</text><text x="228.39" y="304.6" font-size="2.9" fill="#222" stroke="#222" stroke-width=".1" text-anchor="end" transform="rotate(-90 228.39 304.6)">hsa-miR-126</text><text x="84.58" y="304.6" font-size="2.9" fill="#222" stroke="#222" stroke-width=".1" text-anchor="end" transform="rotate(-90 84.58 304.6)">hsa-miR-15a</text><text x="232.58" y="304.6" font-size="2.9" fill="#222" stroke="#222" stroke-width=".1" text-anchor="end" transform="rotate(-90 232.58 304.6)">hsa-let-7a</text><text x="88.77" y="304.6" font-size="2.9" fill="#222" stroke="#222" stroke-width=".1" text-anchor="end" transform="rotate(-90 88.77 304.6)">hsa-miR-22</text><text x="236.77" y="304.6" font-size="2.9" fill="#222" stroke="#222" stroke-width=".1" text-anchor="end" transform="rotate(-90 236.77 304.6)">hsa-miR-145</text><text x="92.96" y="304.6" font-size="2.9" fill="#222" stroke="#222" stroke-width=".1" text-anchor="end" transform="rotate(-90 92.96 304.6)">hsa-miR-29a</text><text x="240.96" y="304.6" font-size="2.9" fill="#222" stroke="#222" stroke-width=".1" text-anchor="end" transform="rotate(-90 240.96 304.6)">hsa-miR-106a</text><text x="97.15" y="304.6" font-size="2.9" fill="#222" stroke="#222" stroke-width=".1" text-anchor="end" transform="rotate(-90 97.15 304.6)">hsa-miR-1246</text><text x="245.15" y="304.6" font-size="2.9" fill="#222" stroke="#222" stroke-width=".1" text-anchor="end" transform="rotate(-90 245.15 304.6)">hsa-miR-16</text><text x="101.34" y="304.6" font-size="2.9" fill="#222" stroke="#222" stroke-width=".1" text-anchor="end" transform="rotate(-90 101.34 304.6)">hsa-miR-21</text><text x="249.34" y="304.6" font-size="2.9" fill="#222" stroke="#222" stroke-width=".1" text-anchor="end" transform="rotate(-90 249.34 304.6)">hsa-miR-126</text><text x="105.53" y="304.6" font-size="2.9" fill="#222" stroke="#222" stroke-width=".1" text-anchor="end" transform="rotate(-90 105.53 304.6)">hsa-miR-15a</text><text x="253.53" y="304.6" font-size="2.9" fill="#222" stroke="#222" stroke-width=".1" text-anchor="end" transform="rotate(-90 253.53 304.6)">hsa-let-7a</text><text x="109.72" y="304.6" font-size="2.9" fill="#222" stroke="#222" stroke-width=".1" text-anchor="end" transform="rotate(-90 109.72 304.6)">hsa-miR-22</text><text x="257.71" y="304.6" font-size="2.9" fill="#222" stroke="#222" stroke-width=".1" text-anchor="end" transform="rotate(-90 257.71 304.6)">hsa-miR-145</text><text x="113.91" y="304.6" font-size="2.9" fill="#222" stroke="#222" stroke-width=".1" text-anchor="end" transform="rotate(-90 113.91 304.6)">hsa-miR-29a</text><text x="261.90" y="304.6" font-size="2.9" fill="#222" stroke="#222" stroke-width=".1" text-anchor="end" transform="rotate(-90 261.90 304.6)">hsa-miR-106a</text><text x="118.10" y="304.6" font-size="2.9" fill="#222" stroke="#222" stroke-width=".1" text-anchor="end" transform="rotate(-90 118.10 304.6)">hsa-miR-1246</text><text x="266.10" y="304.6" font-size="2.9" fill="#222" stroke="#222" stroke-width=".1" text-anchor="end" transform="rotate(-90 266.10 304.6)">hsa-miR-16</text><text x="122.29" y="304.6" font-size="2.9" fill="#222" stroke="#222" stroke-width=".1" text-anchor="end" transform="rotate(-90 122.29 304.6)">hsa-miR-21</text><text x="270.28" y="304.6" font-size="2.9" fill="#222" stroke="#222" stroke-width=".1" text-anchor="end" transform="rotate(-90 270.28 304.6)">hsa-miR-126</text><text x="126.48" y="304.6" font-size="2.9" fill="#222" stroke="#222" stroke-width=".1" text-anchor="end" transform="rotate(-90 126.48 304.6)">hsa-miR-15a</text><text x="274.48" y="304.6" font-size="2.9" fill="#222" stroke="#222" stroke-width=".1" text-anchor="end" transform="rotate(-90 274.48 304.6)">hsa-let-7a</text><text x="130.67" y="304.6" font-size="2.9" fill="#222" stroke="#222" stroke-width=".1" text-anchor="end" transform="rotate(-90 130.67 304.6)">hsa-miR-22</text><text x="278.66" y="304.6" font-size="2.9" fill="#222" stroke="#222" stroke-width=".1" text-anchor="end" transform="rotate(-90 278.66 304.6)">hsa-miR-145</text><text x="134.86" y="304.6" font-size="2.9" fill="#222" stroke="#222" stroke-width=".1" text-anchor="end" transform="rotate(-90 134.86 304.6)">hsa-miR-29a</text><text x="282.86" y="304.6" font-size="2.9" fill="#222" stroke="#222" stroke-width=".1" text-anchor="end" transform="rotate(-90 282.86 304.6)">hsa-miR-106a</text><text x="139.05" y="304.6" font-size="2.9" fill="#222" stroke="#222" stroke-width=".1" text-anchor="end" transform="rotate(-90 139.05 304.6)">hsa-miR-1246</text><text x="287.05" y="304.6" font-size="2.9" fill="#222" stroke="#222" stroke-width=".1" text-anchor="end" transform="rotate(-90 287.05 304.6)">hsa-miR-16</text><text x="143.24" y="304.6" font-size="2.9" fill="#222" stroke="#222" stroke-width=".1" text-anchor="end" transform="rotate(-90 143.24 304.6)">hsa-miR-21</text><text x="291.24" y="304.6" font-size="2.9" fill="#222" stroke="#222" stroke-width=".1" text-anchor="end" transform="rotate(-90 291.24 304.6)">hsa-miR-126</text><text x="147.43" y="304.6" font-size="2.9" fill="#222" stroke="#222" stroke-width=".1" text-anchor="end" transform="rotate(-90 147.43 304.6)">hsa-miR-15a</text><text x="295.43" y="304.6" font-size="2.9" fill="#222" stroke="#222" stroke-width=".1" text-anchor="end" transform="rotate(-90 295.43 304.6)">hsa-let-7a</text><text x="151.62" y="304.6" font-size="2.9" fill="#222" stroke="#222" stroke-width=".1" text-anchor="end" transform="rotate(-90 151.62 304.6)">hsa-miR-22</text><text x="299.62" y="304.6" font-size="2.9" fill="#222" stroke="#222" stroke-width=".1" text-anchor="end" transform="rotate(-90 299.62 304.6)">hsa-miR-145</text><text x="155.81" y="304.6" font-size="2.9" fill="#222" stroke="#222" stroke-width=".1" text-anchor="end" transform="rotate(-90 155.81 304.6)">hsa-miR-29a</text><text x="303.81" y="304.6" font-size="2.9" fill="#222" stroke="#222" stroke-width=".1" text-anchor="end" transform="rotate(-90 303.81 304.6)">hsa-miR-106a</text><text x="160.00" y="304.6" font-size="2.9" fill="#222" stroke="#222" stroke-width=".1" text-anchor="end" transform="rotate(-90 160.00 304.6)">hsa-miR-1246</text><text x="308.00" y="304.6" font-size="2.9" fill="#222" stroke="#222" stroke-width=".1" text-anchor="end" transform="rotate(-90 308.00 304.6)">hsa-miR-16</text><text x="164.19" y="304.6" font-size="2.9" fill="#222" stroke="#222" stroke-width=".1" text-anchor="end" transform="rotate(-90 164.19 304.6)">hsa-miR-21</text><text x="312.19" y="304.6" font-size="2.9" fill="#222" stroke="#222" stroke-width=".1" text-anchor="end" transform="rotate(-90 312.19 304.6)">hsa-miR-126</text><text x="168.38" y="304.6" font-size="2.9" fill="#222" stroke="#222" stroke-width=".1" text-anchor="end" transform="rotate(-90 168.38 304.6)">hsa-miR-15a</text><text x="316.38" y="304.6" font-size="2.9" fill="#222" stroke="#222" stroke-width=".1" text-anchor="end" transform="rotate(-90 316.38 304.6)">hsa-let-7a</text><text x="172.57" y="304.6" font-size="2.9" fill="#222" stroke="#222" stroke-width=".1" text-anchor="end" transform="rotate(-90 172.57 304.6)">hsa-miR-22</text><text x="320.56" y="304.6" font-size="2.9" fill="#222" stroke="#222" stroke-width=".1" text-anchor="end" transform="rotate(-90 320.56 304.6)">hsa-miR-145</text><text x="176.76" y="304.6" font-size="2.9" fill="#222" stroke="#222" stroke-width=".1" text-anchor="end" transform="rotate(-90 176.76 304.6)">hsa-miR-29a</text><text x="324.75" y="304.6" font-size="2.9" fill="#222" stroke="#222" stroke-width=".1" text-anchor="end" transform="rotate(-90 324.75 304.6)">hsa-miR-106a</text><defs><linearGradient id="la1" x1="0" y1="0" x2="0" y2="1"><stop offset="0" stop-color="#ff0000"/><stop offset=".15" stop-color="#ff0000"/><stop offset=".55" stop-color="#ffffff"/><stop offset=".9" stop-color="#0000ff"/><stop offset="1" stop-color="#0000ff"/></linearGradient><linearGradient id="la2" x1="0" y1="0" x2="0" y2="1"><stop offset="0" stop-color="#ff0000"/><stop offset=".12" stop-color="#ff0000"/><stop offset=".5" stop-color="#ffffff"/><stop offset=".88" stop-color="#00ff00"/><stop offset="1" stop-color="#00ff00"/></linearGradient></defs><rect x="327.7" y="137.3" width="3.4" height="18.8" fill="url(#la1)"/><rect x="327.7" y="162.2" width="3.4" height="18.8" fill="url(#la2)"/><text x="327.6" y="135" font-size="3" font-weight="bold" fill="#112" stroke="#112" stroke-width=".1">mat</text><text x="327.6" y="160.4" font-size="3" font-weight="bold" fill="#112" stroke="#112" stroke-width=".1">mat</text><text x="332.3" y="138.6" font-size="3" fill="#222" stroke="#222" stroke-width=".12">150000</text><text x="332.3" y="144.3" font-size="3" fill="#222" stroke="#222" stroke-width=".12">1e+05</text><text x="332.3" y="149.9" font-size="3" fill="#222" stroke="#222" stroke-width=".12">50000</text><text x="332.3" y="155.6" font-size="3" fill="#222" stroke="#222" stroke-width=".12">0</text><text x="332.3" y="163.4" font-size="3" fill="#222" stroke="#222" stroke-width=".12">2</text><text x="332.3" y="167.9" font-size="3" fill="#222" stroke="#222" stroke-width=".12">1</text><text x="332.3" y="172.4" font-size="3" fill="#222" stroke="#222" stroke-width=".12">0</text><text x="332.3" y="176.9" font-size="3" fill="#222" stroke="#222" stroke-width=".12">-1</text><text x="332.3" y="181.4" font-size="3" fill="#222" stroke="#222" stroke-width=".12">-2</text></g><text x="0.6" y="14" font-size="17.4" fill="#000">A</text><g id="panelB" filter="url(#sb)"><path d="M344.5 326.5V1H671.3V326.5" stroke="#e2e2e2" stroke-width="1" fill="none"/><line x1="344.5" y1="326.5" x2="671.3" y2="326.5" stroke="#ececec" stroke-width="1"/><defs><linearGradient id="b0" x1="0" y1="0" x2="0" y2="1"><stop offset="0.0000" stop-color="#5e4fa2"/><stop offset="0.0624" stop-color="#5856a5"/><stop offset="0.1171" stop-color="#545ca8"/><stop offset="0.1925" stop-color="#5e4fa2"/><stop offset="0.3772" stop-color="#5955a5"/><stop offset="0.4856" stop-color="#4b68ae"/><stop offset="0.5983" stop-color="#348bbc"/><stop offset="0.6521" stop-color="#47a0b3"/><stop offset="0.6729" stop-color="#6bc4a5"/><stop offset="0.6989" stop-color="#e2f399"/><stop offset="0.7206" stop-color="#fffdbc"/><stop offset="0.7466" stop-color="#fecf7d"/><stop offset="0.7622" stop-color="#fdaf62"/><stop offset="0.8125" stop-color="#fdb365"/><stop offset="0.8273" stop-color="#fee898"/><stop offset="0.8403" stop-color="#fdfebd"/><stop offset="0.8498" stop-color="#e3f499"/><stop offset="0.8672" stop-color="#5cb7aa"/><stop offset="0.8776" stop-color="#3387bc"/><stop offset="0.8949" stop-color="#5b52a4"/><stop offset="0.9998" stop-color="#5e4fa2"/></linearGradient><linearGradient id="b1" x1="0" y1="0" x2="0" y2="1"><stop offset="0.0000" stop-color="#5e4fa2"/><stop offset="0.1292" stop-color="#5856a6"/><stop offset="0.2055" stop-color="#5c52a3"/><stop offset="0.3781" stop-color="#5a54a5"/><stop offset="0.6122" stop-color="#358cbb"/><stop offset="0.6530" stop-color="#48a1b3"/><stop offset="0.6729" stop-color="#6bc4a5"/><stop offset="0.6989" stop-color="#e2f399"/><stop offset="0.7197" stop-color="#fffebe"/><stop offset="0.7431" stop-color="#fecd7b"/><stop offset="0.7614" stop-color="#fb9d59"/><stop offset="0.8108" stop-color="#fb9e59"/><stop offset="0.8186" stop-color="#fdc271"/><stop offset="0.8264" stop-color="#fee694"/><stop offset="0.8403" stop-color="#fdfebd"/><stop offset="0.8498" stop-color="#e3f499"/><stop offset="0.8672" stop-color="#5cb7aa"/><stop offset="0.8776" stop-color="#3387bc"/><stop offset="0.8949" stop-color="#5b52a4"/><stop offset="0.9998" stop-color="#5e4fa2"/></linearGradient><linearGradient id="b2" x1="0" y1="0" x2="0" y2="1"><stop offset="0.0000" stop-color="#5e4fa2"/><stop offset="0.1795" stop-color="#5a54a5"/><stop offset="0.3521" stop-color="#5a54a5"/><stop offset="0.4847" stop-color="#4076b4"/><stop offset="0.5992" stop-color="#358cbb"/><stop offset="0.6521" stop-color="#4fa8b0"/><stop offset="0.6720" stop-color="#70c6a5"/><stop offset="0.6963" stop-color="#d8ef9b"/><stop offset="0.7033" stop-color="#ebf79f"/><stop offset="0.7197" stop-color="#fffebd"/><stop offset="0.7379" stop-color="#fed280"/><stop offset="0.7588" stop-color="#f88950"/><stop offset="0.7718" stop-color="#f77f4b"/><stop offset="0.8117" stop-color="#f7804c"/><stop offset="0.8177" stop-color="#fba35c"/><stop offset="0.8273" stop-color="#fee08b"/><stop offset="0.8403" stop-color="#feffbe"/><stop offset="0.8498" stop-color="#e3f499"/><stop offset="0.8672" stop-color="#5cb7aa"/><stop offset="0.8776" stop-color="#3387bc"/><stop offset="0.8949" stop-color="#5b52a4"/><stop offset="0.9998" stop-color="#5e4fa2"/></linearGradient><linearGradient id="b3" x1="0" y1="0" x2="0" y2="1"><stop offset="0.0000" stop-color="#5e4fa2"/><stop offset="0.3399" stop-color="#5a54a5"/><stop offset="0.5281" stop-color="#358bbc"/><stop offset="0.6009" stop-color="#64c0a6"/><stop offset="0.6755" stop-color="#afdfa3"/><stop offset="0.7327" stop-color="#e8f69c"/><stop offset="0.7908" stop-color="#f5fbaf"/><stop offset="0.8602" stop-color="#ebf7a0"/><stop offset="0.8793" stop-color="#ddf19a"/><stop offset="0.9140" stop-color="#97d5a4"/><stop offset="0.9339" stop-color="#60bca8"/><stop offset="0.9539" stop-color="#3486bc"/><stop offset="0.9816" stop-color="#5c51a3"/><stop offset="0.9998" stop-color="#5e4fa2"/></linearGradient><linearGradient id="b4" x1="0" y1="0" x2="0" y2="1"><stop offset="0.0000" stop-color="#5e4fa2"/><stop offset="0.3382" stop-color="#5a54a5"/><stop offset="0.4492" stop-color="#348bbc"/><stop offset="0.5680" stop-color="#75c8a5"/><stop offset="0.6478" stop-color="#b2e0a3"/><stop offset="0.7050" stop-color="#d3ed9c"/><stop offset="0.7371" stop-color="#e9f69d"/><stop offset="0.7813" stop-color="#f2faab"/><stop offset="0.8541" stop-color="#ebf7a0"/><stop offset="0.8784" stop-color="#def29a"/><stop offset="0.9157" stop-color="#96d5a4"/><stop offset="0.9374" stop-color="#5eb9a9"/><stop offset="0.9556" stop-color="#3485bc"/><stop offset="0.9755" stop-color="#5c52a3"/><stop offset="0.9998" stop-color="#5e4fa2"/></linearGradient><linearGradient id="b5" x1="0" y1="0" x2="0" y2="1"><stop offset="0.0000" stop-color="#5160aa"/><stop offset="0.1101" stop-color="#5b53a4"/><stop offset="0.5532" stop-color="#5a54a5"/><stop offset="0.5767" stop-color="#348bbc"/><stop offset="0.6035" stop-color="#6dc5a5"/><stop offset="0.6209" stop-color="#a6dba4"/><stop offset="0.6816" stop-color="#ceeb9d"/><stop offset="0.7015" stop-color="#e9f69d"/><stop offset="0.7206" stop-color="#fffdbc"/><stop offset="0.7431" stop-color="#fede89"/><stop offset="0.7778" stop-color="#feca79"/><stop offset="0.8099" stop-color="#fee492"/><stop offset="0.8307" stop-color="#fefebd"/><stop offset="0.8429" stop-color="#e0f399"/><stop offset="0.8567" stop-color="#84cea5"/><stop offset="0.8646" stop-color="#53adae"/><stop offset="0.8724" stop-color="#3486bc"/><stop offset="0.8880" stop-color="#5b53a4"/><stop offset="0.9998" stop-color="#5e4fa2"/></linearGradient><linearGradient id="b6" x1="0" y1="0" x2="0" y2="1"><stop offset="0.0000" stop-color="#5e4fa2"/><stop offset="0.7388" stop-color="#5c52a3"/><stop offset="0.7397" stop-color="#4c67ad"/><stop offset="0.7405" stop-color="#388eba"/><stop offset="0.7414" stop-color="#70c6a5"/><stop offset="0.7423" stop-color="#dbf19a"/><stop offset="0.7431" stop-color="#fee797"/><stop offset="0.7440" stop-color="#f99455"/><stop offset="0.7449" stop-color="#de4c4c"/><stop offset="0.7458" stop-color="#b01546"/><stop offset="0.7466" stop-color="#9e0142"/><stop offset="0.7475" stop-color="#bc2349"/><stop offset="0.7484" stop-color="#e95d47"/><stop offset="0.7492" stop-color="#fdb264"/><stop offset="0.7501" stop-color="#fffab6"/><stop offset="0.7510" stop-color="#b5e1a2"/><stop offset="0.7518" stop-color="#58b2ab"/><stop offset="0.7527" stop-color="#397eb8"/><stop offset="0.7536" stop-color="#535da9"/><stop offset="0.7544" stop-color="#5e4fa2"/><stop offset="0.9998" stop-color="#5e4fa2"/></linearGradient><linearGradient id="b7" x1="0" y1="0" x2="0" y2="1"><stop offset="0.0000" stop-color="#5e4fa2"/><stop offset="0.2177" stop-color="#5a54a5"/><stop offset="0.2879" stop-color="#5160aa"/><stop offset="0.4934" stop-color="#4372b3"/><stop offset="0.5732" stop-color="#3387bd"/><stop offset="0.6426" stop-color="#6dc5a5"/><stop offset="0.6764" stop-color="#92d3a4"/><stop offset="0.7111" stop-color="#e8f69b"/><stop offset="0.7301" stop-color="#fffebe"/><stop offset="0.7484" stop-color="#fed985"/><stop offset="0.7657" stop-color="#fa9b58"/><stop offset="0.7813" stop-color="#f47044"/><stop offset="0.8056" stop-color="#f57245"/><stop offset="0.8143" stop-color="#fa9857"/><stop offset="0.8316" stop-color="#fee796"/><stop offset="0.8403" stop-color="#feffbe"/><stop offset="0.8489" stop-color="#e3f499"/><stop offset="0.8646" stop-color="#7acaa5"/><stop offset="0.8776" stop-color="#3e96b7"/><stop offset="0.8819" stop-color="#3584bb"/><stop offset="0.9018" stop-color="#5c51a3"/><stop offset="0.9998" stop-color="#5e4fa2"/></linearGradient><linearGradient id="b8" x1="0" y1="0" x2="0" y2="1"><stop offset="0.0000" stop-color="#535da9"/><stop offset="0.0937" stop-color="#5b54a4"/><stop offset="0.4943" stop-color="#5a54a5"/><stop offset="0.5220" stop-color="#4f63ab"/><stop offset="0.5584" stop-color="#348bbc"/><stop offset="0.6217" stop-color="#6ac4a5"/><stop offset="0.6677" stop-color="#96d5a4"/><stop offset="0.7041" stop-color="#d7ef9b"/><stop offset="0.7137" stop-color="#e9f69d"/><stop offset="0.7293" stop-color="#ffffbf"/><stop offset="0.7405" stop-color="#fed380"/><stop offset="0.7527" stop-color="#f7814c"/><stop offset="0.7570" stop-color="#ee6445"/><stop offset="0.7648" stop-color="#ca324d"/><stop offset="0.7718" stop-color="#a50944"/><stop offset="0.7804" stop-color="#9e0142"/><stop offset="0.7943" stop-color="#a30643"/><stop offset="0.8012" stop-color="#c52d4b"/><stop offset="0.8091" stop-color="#ee6445"/><stop offset="0.8134" stop-color="#f8884f"/><stop offset="0.8221" stop-color="#feca78"/><stop offset="0.8333" stop-color="#fffebd"/><stop offset="0.8420" stop-color="#e4f498"/><stop offset="0.8576" stop-color="#83cda5"/><stop offset="0.8663" stop-color="#5ab5aa"/><stop offset="0.8776" stop-color="#3386bc"/><stop offset="0.8949" stop-color="#5b52a4"/><stop offset="0.9998" stop-color="#5e4fa2"/></linearGradient><linearGradient id="b9" x1="0" y1="0" x2="0" y2="1"><stop offset="0.0000" stop-color="#5e4fa2"/><stop offset="0.6044" stop-color="#5e4fa2"/><stop offset="0.6053" stop-color="#5160aa"/><stop offset="0.6061" stop-color="#3e95b8"/><stop offset="0.6070" stop-color="#81cca5"/><stop offset="0.6079" stop-color="#cbea9d"/><stop offset="0.6087" stop-color="#f8fcb4"/><stop offset="0.6105" stop-color="#fee695"/><stop offset="0.6200" stop-color="#fee99a"/><stop offset="0.6209" stop-color="#ffffbf"/><stop offset="0.6217" stop-color="#dcf19a"/><stop offset="0.6226" stop-color="#95d4a4"/><stop offset="0.6235" stop-color="#4da6b1"/><stop offset="0.6243" stop-color="#4a68ae"/><stop offset="0.6252" stop-color="#5e4fa2"/><stop offset="0.6859" stop-color="#5e4fa2"/><stop offset="0.6868" stop-color="#4a68ae"/><stop offset="0.6877" stop-color="#48a1b3"/><stop offset="0.6885" stop-color="#84cea5"/><stop offset="0.6894" stop-color="#c4e79f"/><stop offset="0.6903" stop-color="#f1f9a9"/><stop offset="0.6911" stop-color="#ffffbe"/><stop offset="0.6946" stop-color="#fcfeba"/><stop offset="0.6955" stop-color="#ebf7a0"/><stop offset="0.6963" stop-color="#b8e2a1"/><stop offset="0.6972" stop-color="#75c8a5"/><stop offset="0.6981" stop-color="#3d94b8"/><stop offset="0.6989" stop-color="#4f62ab"/><stop offset="0.6998" stop-color="#5e4fa2"/><stop offset="0.7067" stop-color="#5e4fa2"/><stop offset="0.7076" stop-color="#5758a6"/><stop offset="0.7085" stop-color="#348abc"/><stop offset="0.7093" stop-color="#63bea6"/><stop offset="0.7111" stop-color="#d7ef9b"/><stop offset="0.7119" stop-color="#f2faab"/><stop offset="0.7128" stop-color="#f2faac"/><stop offset="0.7137" stop-color="#e8f69c"/><stop offset="0.7154" stop-color="#7acaa5"/><stop offset="0.7163" stop-color="#479fb4"/><stop offset="0.7171" stop-color="#486baf"/><stop offset="0.7180" stop-color="#5e4fa2"/><stop offset="0.7206" stop-color="#3b7db8"/><stop offset="0.7215" stop-color="#378ebb"/><stop offset="0.7223" stop-color="#479fb3"/><stop offset="0.7232" stop-color="#4ca5b1"/><stop offset="0.7249" stop-color="#3386bc"/><stop offset="0.7275" stop-color="#5b53a4"/><stop offset="0.7284" stop-color="#4274b3"/><stop offset="0.7293" stop-color="#49a2b2"/><stop offset="0.7301" stop-color="#77c9a5"/><stop offset="0.7319" stop-color="#ddf19a"/><stop offset="0.7336" stop-color="#e6f598"/><stop offset="0.7345" stop-color="#e6f598"/><stop offset="0.7353" stop-color="#c8e99e"/><stop offset="0.7371" stop-color="#60bca8"/><stop offset="0.7379" stop-color="#378dbb"/><stop offset="0.7388" stop-color="#3e79b6"/><stop offset="0.7397" stop-color="#449cb5"/><stop offset="0.7405" stop-color="#77c9a5"/><stop offset="0.7423" stop-color="#e7f59a"/><stop offset="0.7431" stop-color="#f2faac"/><stop offset="0.7440" stop-color="#f2faac"/><stop offset="0.7449" stop-color="#dbf09a"/><stop offset="0.7466" stop-color="#66c2a5"/><stop offset="0.7475" stop-color="#388eba"/><stop offset="0.7484" stop-color="#496aaf"/><stop offset="0.7492" stop-color="#479fb4"/><stop offset="0.7501" stop-color="#c2e69f"/><stop offset="0.7510" stop-color="#fff3ab"/><stop offset="0.7518" stop-color="#fa9555"/><stop offset="0.7527" stop-color="#cf374d"/><stop offset="0.7536" stop-color="#9f0242"/><stop offset="0.7648" stop-color="#9e0142"/><stop offset="0.7657" stop-color="#c0274a"/><stop offset="0.7666" stop-color="#e85b48"/><stop offset="0.7674" stop-color="#fa9556"/><stop offset="0.7683" stop-color="#fecd7b"/><stop offset="0.7692" stop-color="#fff7b2"/><stop offset="0.7700" stop-color="#edf8a4"/><stop offset="0.7709" stop-color="#bde4a0"/><stop offset="0.7718" stop-color="#7bcaa5"/><stop offset="0.7726" stop-color="#4299b6"/><stop offset="0.7735" stop-color="#4b68ae"/><stop offset="0.7744" stop-color="#5e4fa2"/><stop offset="0.9998" stop-color="#5e4fa2"/></linearGradient><linearGradient id="b10" x1="0" y1="0" x2="0" y2="1"><stop offset="0.0000" stop-color="#5e4fa2"/><stop offset="0.1518" stop-color="#5b53a4"/><stop offset="0.1596" stop-color="#3386bc"/><stop offset="0.1665" stop-color="#67c2a5"/><stop offset="0.1708" stop-color="#6cc4a5"/><stop offset="0.1743" stop-color="#56b0ac"/><stop offset="0.1786" stop-color="#3289bd"/><stop offset="0.1873" stop-color="#5c51a3"/><stop offset="0.3633" stop-color="#5b53a4"/><stop offset="0.3677" stop-color="#3b7db8"/><stop offset="0.3685" stop-color="#3287bd"/><stop offset="0.3720" stop-color="#5eb9a9"/><stop offset="0.3763" stop-color="#c5e89f"/><stop offset="0.3789" stop-color="#e0f299"/><stop offset="0.3841" stop-color="#def29a"/><stop offset="0.3867" stop-color="#bde4a0"/><stop offset="0.3902" stop-color="#65c1a5"/><stop offset="0.3937" stop-color="#378ebb"/><stop offset="0.3954" stop-color="#3e79b6"/><stop offset="0.3989" stop-color="#5955a5"/><stop offset="0.4093" stop-color="#5e4fa2"/><stop offset="0.6278" stop-color="#5e4fa2"/><stop offset="0.6296" stop-color="#5061ab"/><stop offset="0.6313" stop-color="#378ebb"/><stop offset="0.6330" stop-color="#6bc4a5"/><stop offset="0.6348" stop-color="#90d2a4"/><stop offset="0.6400" stop-color="#96d5a4"/><stop offset="0.6582" stop-color="#93d4a4"/><stop offset="0.6608" stop-color="#73c7a5"/><stop offset="0.6642" stop-color="#3e95b7"/><stop offset="0.6668" stop-color="#3288bd"/><stop offset="0.6772" stop-color="#3485bc"/><stop offset="0.6824" stop-color="#5a54a4"/><stop offset="0.7093" stop-color="#5a54a5"/><stop offset="0.7119" stop-color="#3881ba"/><stop offset="0.7137" stop-color="#469eb4"/><stop offset="0.7197" stop-color="#4ca5b1"/><stop offset="0.7232" stop-color="#3e96b7"/><stop offset="0.7249" stop-color="#3682ba"/><stop offset="0.7267" stop-color="#3288bd"/><stop offset="0.7301" stop-color="#62bea7"/><stop offset="0.7371" stop-color="#63bfa6"/><stop offset="0.7388" stop-color="#4da6b1"/><stop offset="0.7397" stop-color="#3b92b9"/><stop offset="0.7405" stop-color="#397fb9"/><stop offset="0.7423" stop-color="#4e64ac"/><stop offset="0.7536" stop-color="#5160aa"/><stop offset="0.7544" stop-color="#476cb0"/><stop offset="0.7553" stop-color="#459db4"/><stop offset="0.7562" stop-color="#9fd8a4"/><stop offset="0.7570" stop-color="#f9fdb6"/><stop offset="0.7579" stop-color="#fdbd6d"/><stop offset="0.7588" stop-color="#e75948"/><stop offset="0.7596" stop-color="#b81e48"/><stop offset="0.7605" stop-color="#9e0142"/><stop offset="0.7874" stop-color="#9e0142"/><stop offset="0.7882" stop-color="#ad1246"/><stop offset="0.7891" stop-color="#d43d4f"/><stop offset="0.7900" stop-color="#f46c43"/><stop offset="0.7908" stop-color="#fdad61"/><stop offset="0.7917" stop-color="#fedf8a"/><stop offset="0.7926" stop-color="#fff6b0"/><stop offset="0.7934" stop-color="#ffffbf"/><stop offset="0.7969" stop-color="#ffffbf"/><stop offset="0.7978" stop-color="#f8fcb5"/><stop offset="0.7986" stop-color="#eaf79e"/><stop offset="0.7995" stop-color="#bae3a1"/><stop offset="0.8004" stop-color="#77c9a5"/><stop offset="0.8012" stop-color="#3f96b7"/><stop offset="0.8021" stop-color="#486cb0"/><stop offset="0.8030" stop-color="#5a54a5"/><stop offset="0.9998" stop-color="#5e4fa2"/></linearGradient><linearGradient id="b11" x1="0" y1="0" x2="0" y2="1"><stop offset="0.0000" stop-color="#5e4fa2"/><stop offset="0.2177" stop-color="#5a54a5"/><stop offset="0.2844" stop-color="#4c67ad"/><stop offset="0.4613" stop-color="#466db0"/><stop offset="0.5758" stop-color="#358bbc"/><stop offset="0.6547" stop-color="#71c6a5"/><stop offset="0.7024" stop-color="#b4e1a2"/><stop offset="0.7206" stop-color="#e8f69b"/><stop offset="0.7353" stop-color="#fffebd"/><stop offset="0.7466" stop-color="#fed481"/><stop offset="0.7553" stop-color="#fa9857"/><stop offset="0.7605" stop-color="#f16944"/><stop offset="0.7683" stop-color="#c72f4c"/><stop offset="0.7752" stop-color="#a30743"/><stop offset="0.7908" stop-color="#9e0142"/><stop offset="0.8047" stop-color="#a30743"/><stop offset="0.8108" stop-color="#c52c4b"/><stop offset="0.8160" stop-color="#e75948"/><stop offset="0.8195" stop-color="#f67848"/><stop offset="0.8273" stop-color="#fdc070"/><stop offset="0.8359" stop-color="#feeea2"/><stop offset="0.8403" stop-color="#ffffbe"/><stop offset="0.8472" stop-color="#e5f598"/><stop offset="0.8585" stop-color="#93d4a4"/><stop offset="0.8689" stop-color="#5db9a9"/><stop offset="0.8793" stop-color="#3485bc"/><stop offset="0.8949" stop-color="#5b53a4"/><stop offset="0.9998" stop-color="#5e4fa2"/></linearGradient><linearGradient id="b12" x1="0" y1="0" x2="0" y2="1"><stop offset="0.0000" stop-color="#5e4fa2"/><stop offset="0.2948" stop-color="#5a54a4"/><stop offset="0.3815" stop-color="#4b68ae"/><stop offset="0.4925" stop-color="#397fb9"/><stop offset="0.5281" stop-color="#358cbb"/><stop offset="0.6252" stop-color="#6ac4a5"/><stop offset="0.6790" stop-color="#aadda4"/><stop offset="0.7145" stop-color="#e9f69c"/><stop offset="0.7431" stop-color="#ffffbe"/><stop offset="0.7709" stop-color="#fff1a7"/><stop offset="0.8134" stop-color="#fffebd"/><stop offset="0.8489" stop-color="#e1f399"/><stop offset="0.8715" stop-color="#9fd8a4"/><stop offset="0.8888" stop-color="#5fbaa8"/><stop offset="0.9079" stop-color="#3485bc"/><stop offset="0.9331" stop-color="#5d51a3"/><stop offset="0.9998" stop-color="#5e4fa2"/></linearGradient><linearGradient id="b13" x1="0" y1="0" x2="0" y2="1"><stop offset="0.0000" stop-color="#4273b3"/><stop offset="0.0121" stop-color="#358bbc"/><stop offset="0.0260" stop-color="#388fba"/><stop offset="0.0503" stop-color="#3583bb"/><stop offset="0.0702" stop-color="#5e4fa2"/><stop offset="0.4830" stop-color="#5a54a5"/><stop offset="0.5402" stop-color="#4e64ac"/><stop offset="0.5558" stop-color="#358bbc"/><stop offset="0.5636" stop-color="#71c6a5"/><stop offset="0.5706" stop-color="#b1e0a3"/><stop offset="0.5793" stop-color="#d9f09b"/><stop offset="0.5957" stop-color="#d7ef9b"/><stop offset="0.6027" stop-color="#a4daa4"/><stop offset="0.6105" stop-color="#5cb7aa"/><stop offset="0.6165" stop-color="#358bbc"/><stop offset="0.6746" stop-color="#3387bd"/><stop offset="0.7007" stop-color="#6cc4a5"/><stop offset="0.7128" stop-color="#aedea3"/><stop offset="0.7180" stop-color="#e8f69b"/><stop offset="0.7223" stop-color="#fffebd"/><stop offset="0.7267" stop-color="#fed884"/><stop offset="0.7319" stop-color="#f88950"/><stop offset="0.7336" stop-color="#f16944"/><stop offset="0.7371" stop-color="#cc344d"/><stop offset="0.7397" stop-color="#a80c44"/><stop offset="0.7423" stop-color="#9e0142"/><stop offset="0.7986" stop-color="#a20543"/><stop offset="0.7995" stop-color="#b41947"/><stop offset="0.8004" stop-color="#d43d4f"/><stop offset="0.8012" stop-color="#ed6346"/><stop offset="0.8021" stop-color="#fa9857"/><stop offset="0.8030" stop-color="#fec977"/><stop offset="0.8039" stop-color="#fee796"/><stop offset="0.8056" stop-color="#feffbe"/><stop offset="0.8082" stop-color="#dff299"/><stop offset="0.8117" stop-color="#7ecba5"/><stop offset="0.8134" stop-color="#5db7a9"/><stop offset="0.8177" stop-color="#3387bc"/><stop offset="0.8229" stop-color="#5160aa"/><stop offset="0.8299" stop-color="#5e4fa2"/><stop offset="0.9998" stop-color="#5e4fa2"/></linearGradient><linearGradient id="b14" x1="0" y1="0" x2="0" y2="1"><stop offset="0.0000" stop-color="#5e4fa2"/><stop offset="0.3122" stop-color="#5a54a5"/><stop offset="0.3789" stop-color="#4c66ad"/><stop offset="0.5472" stop-color="#358bbc"/><stop offset="0.6035" stop-color="#49a2b2"/><stop offset="0.6538" stop-color="#6fc6a5"/><stop offset="0.7102" stop-color="#ceeb9d"/><stop offset="0.7241" stop-color="#e9f69d"/><stop offset="0.7510" stop-color="#ffffbf"/><stop offset="0.8125" stop-color="#fcfeba"/><stop offset="0.8481" stop-color="#e1f399"/><stop offset="0.8932" stop-color="#72c7a5"/><stop offset="0.9174" stop-color="#439bb5"/><stop offset="0.9270" stop-color="#3387bc"/><stop offset="0.9521" stop-color="#5d50a3"/><stop offset="0.9998" stop-color="#5e4fa2"/></linearGradient><linearGradient id="b15" x1="0" y1="0" x2="0" y2="1"><stop offset="0.0000" stop-color="#4f62ab"/><stop offset="0.0902" stop-color="#5956a5"/><stop offset="0.1570" stop-color="#5e4fa2"/><stop offset="0.5021" stop-color="#5a54a5"/><stop offset="0.5541" stop-color="#4b68ae"/><stop offset="0.5888" stop-color="#3486bc"/><stop offset="0.6243" stop-color="#64c0a6"/><stop offset="0.6677" stop-color="#d3ed9c"/><stop offset="0.6781" stop-color="#e9f69d"/><stop offset="0.7015" stop-color="#fffebe"/><stop offset="0.7362" stop-color="#fee08b"/><stop offset="0.7579" stop-color="#fca55d"/><stop offset="0.7752" stop-color="#f88a50"/><stop offset="0.7934" stop-color="#fa9958"/><stop offset="0.8099" stop-color="#fed380"/><stop offset="0.8299" stop-color="#ffffbf"/><stop offset="0.8394" stop-color="#e2f499"/><stop offset="0.8550" stop-color="#73c7a5"/><stop offset="0.8689" stop-color="#378ebb"/><stop offset="0.8724" stop-color="#3881ba"/><stop offset="0.8880" stop-color="#5b53a4"/><stop offset="0.9998" stop-color="#5e4fa2"/></linearGradient><linearGradient id="b16" x1="0" y1="0" x2="0" y2="1"><stop offset="0.0000" stop-color="#5e4fa2"/><stop offset="0.2896" stop-color="#5a54a4"/><stop offset="0.4344" stop-color="#3d7ab6"/><stop offset="0.4735" stop-color="#358cbc"/><stop offset="0.5862" stop-color="#76c8a5"/><stop offset="0.6642" stop-color="#b4e1a2"/><stop offset="0.7154" stop-color="#d9f09b"/><stop offset="0.7379" stop-color="#eaf79e"/><stop offset="0.7917" stop-color="#f4fbae"/><stop offset="0.8403" stop-color="#ecf7a1"/><stop offset="0.8550" stop-color="#dbf19a"/><stop offset="0.8888" stop-color="#87cfa5"/><stop offset="0.9070" stop-color="#58b2ac"/><stop offset="0.9279" stop-color="#3485bb"/><stop offset="0.9591" stop-color="#5e4fa2"/><stop offset="0.9998" stop-color="#5e4fa2"/></linearGradient><linearGradient id="b17" x1="0" y1="0" x2="0" y2="1"><stop offset="0.0000" stop-color="#5e4fa2"/><stop offset="0.2480" stop-color="#5a54a5"/><stop offset="0.4561" stop-color="#3f77b5"/><stop offset="0.4891" stop-color="#358cbb"/><stop offset="0.5966" stop-color="#67c2a5"/><stop offset="0.6981" stop-color="#bae3a1"/><stop offset="0.7397" stop-color="#e8f69b"/><stop offset="0.7934" stop-color="#f1faaa"/><stop offset="0.8403" stop-color="#e9f69d"/><stop offset="0.8602" stop-color="#ccea9d"/><stop offset="0.9096" stop-color="#5db8a9"/><stop offset="0.9331" stop-color="#3387bc"/><stop offset="0.9643" stop-color="#5d50a2"/><stop offset="0.9998" stop-color="#5e4fa2"/></linearGradient><linearGradient id="b18" x1="0" y1="0" x2="0" y2="1"><stop offset="0.0000" stop-color="#5e4fa2"/><stop offset="0.2896" stop-color="#5a54a4"/><stop offset="0.4622" stop-color="#4075b4"/><stop offset="0.5029" stop-color="#358cbb"/><stop offset="0.6087" stop-color="#75c8a5"/><stop offset="0.7319" stop-color="#d9f09b"/><stop offset="0.7622" stop-color="#eaf79f"/><stop offset="0.8099" stop-color="#eef8a4"/><stop offset="0.8455" stop-color="#e2f399"/><stop offset="0.8750" stop-color="#acdda4"/><stop offset="0.9044" stop-color="#5db8a9"/><stop offset="0.9270" stop-color="#3387bc"/><stop offset="0.9582" stop-color="#5d50a2"/><stop offset="0.9998" stop-color="#5e4fa2"/></linearGradient><linearGradient id="b19" x1="0" y1="0" x2="0" y2="1"><stop offset="0.0000" stop-color="#5e4fa2"/><stop offset="0.3252" stop-color="#5a54a5"/><stop offset="0.4154" stop-color="#3d7ab6"/><stop offset="0.4362" stop-color="#358bbc"/><stop offset="0.5307" stop-color="#70c6a5"/><stop offset="0.6434" stop-color="#aedea3"/><stop offset="0.7657" stop-color="#e4f498"/><stop offset="0.8273" stop-color="#e2f399"/><stop offset="0.8619" stop-color="#bee5a0"/><stop offset="0.9088" stop-color="#5fbaa8"/><stop offset="0.9331" stop-color="#3387bc"/><stop offset="0.9643" stop-color="#5d50a2"/><stop offset="0.9998" stop-color="#5e4fa2"/></linearGradient><linearGradient id="b20" x1="0" y1="0" x2="0" y2="1"><stop offset="0.0000" stop-color="#5e4fa2"/><stop offset="0.0468" stop-color="#5b53a4"/><stop offset="0.0624" stop-color="#348abc"/><stop offset="0.0711" stop-color="#3b92b9"/><stop offset="0.0911" stop-color="#378ebb"/><stop offset="0.0945" stop-color="#3782ba"/><stop offset="0.1101" stop-color="#5e4fa2"/><stop offset="0.3113" stop-color="#5b53a4"/><stop offset="0.3304" stop-color="#3584bb"/><stop offset="0.3573" stop-color="#3880b9"/><stop offset="0.3763" stop-color="#5e4fa2"/><stop offset="0.6139" stop-color="#5b53a4"/><stop offset="0.6365" stop-color="#3880b9"/><stop offset="0.6512" stop-color="#368dbb"/><stop offset="0.6625" stop-color="#459db4"/><stop offset="0.6764" stop-color="#6dc5a5"/><stop offset="0.6903" stop-color="#ceeb9d"/><stop offset="0.6937" stop-color="#e8f69b"/><stop offset="0.7015" stop-color="#f8fcb4"/><stop offset="0.7093" stop-color="#fffebd"/><stop offset="0.7258" stop-color="#fedf8a"/><stop offset="0.7310" stop-color="#fdab60"/><stop offset="0.7353" stop-color="#f46c43"/><stop offset="0.7405" stop-color="#cd354d"/><stop offset="0.7449" stop-color="#a50944"/><stop offset="0.7510" stop-color="#9e0142"/><stop offset="0.7986" stop-color="#a20543"/><stop offset="0.7995" stop-color="#b41947"/><stop offset="0.8004" stop-color="#d43d4f"/><stop offset="0.8012" stop-color="#ed6346"/><stop offset="0.8021" stop-color="#fa9857"/><stop offset="0.8030" stop-color="#fec977"/><stop offset="0.8039" stop-color="#fee796"/><stop offset="0.8056" stop-color="#feffbe"/><stop offset="0.8082" stop-color="#dff299"/><stop offset="0.8117" stop-color="#7ecba5"/><stop offset="0.8134" stop-color="#5db7a9"/><stop offset="0.8177" stop-color="#3387bc"/><stop offset="0.8229" stop-color="#5160aa"/><stop offset="0.8299" stop-color="#5e4fa2"/><stop offset="0.9998" stop-color="#5e4fa2"/></linearGradient><linearGradient id="b21" x1="0" y1="0" x2="0" y2="1"><stop offset="0.0000" stop-color="#5e4fa2"/><stop offset="0.3304" stop-color="#5a54a5"/><stop offset="0.4683" stop-color="#3b7cb8"/><stop offset="0.4951" stop-color="#358cbb"/><stop offset="0.5957" stop-color="#76c8a5"/><stop offset="0.6660" stop-color="#afdfa3"/><stop offset="0.7163" stop-color="#d4ee9c"/><stop offset="0.7423" stop-color="#e9f69d"/><stop offset="0.7908" stop-color="#f4fbae"/><stop offset="0.8411" stop-color="#ecf7a1"/><stop offset="0.8576" stop-color="#dcf19a"/><stop offset="0.8992" stop-color="#85cea5"/><stop offset="0.9183" stop-color="#59b4ab"/><stop offset="0.9443" stop-color="#3486bc"/><stop offset="0.9773" stop-color="#5e4fa2"/><stop offset="0.9998" stop-color="#5e4fa2"/></linearGradient><linearGradient id="b22" x1="0" y1="0" x2="0" y2="1"><stop offset="0.0000" stop-color="#5e4fa2"/><stop offset="0.2922" stop-color="#5a54a5"/><stop offset="0.4024" stop-color="#4e63ac"/><stop offset="0.4683" stop-color="#4470b2"/><stop offset="0.5229" stop-color="#358bbc"/><stop offset="0.6105" stop-color="#72c7a5"/><stop offset="0.7275" stop-color="#d9f09b"/><stop offset="0.7527" stop-color="#e9f69d"/><stop offset="0.7943" stop-color="#eff8a6"/><stop offset="0.8437" stop-color="#e5f498"/><stop offset="0.8741" stop-color="#aedea3"/><stop offset="0.9044" stop-color="#5db8a9"/><stop offset="0.9270" stop-color="#3387bc"/><stop offset="0.9582" stop-color="#5d50a2"/><stop offset="0.9998" stop-color="#5e4fa2"/></linearGradient><linearGradient id="b23" x1="0" y1="0" x2="0" y2="1"><stop offset="0.0000" stop-color="#5e4fa2"/><stop offset="0.0841" stop-color="#5a54a4"/><stop offset="0.1292" stop-color="#555ba8"/><stop offset="0.1587" stop-color="#5b53a4"/><stop offset="0.2775" stop-color="#5a54a4"/><stop offset="0.3018" stop-color="#4e63ac"/><stop offset="0.3295" stop-color="#555ba8"/><stop offset="0.3538" stop-color="#5e4fa2"/><stop offset="0.5897" stop-color="#5a54a4"/><stop offset="0.6356" stop-color="#348abc"/><stop offset="0.6599" stop-color="#52abae"/><stop offset="0.6694" stop-color="#78c9a5"/><stop offset="0.6903" stop-color="#e9f69d"/><stop offset="0.7015" stop-color="#ffffbf"/><stop offset="0.7197" stop-color="#fee28f"/><stop offset="0.7293" stop-color="#fdac60"/><stop offset="0.7362" stop-color="#f16944"/><stop offset="0.7431" stop-color="#c9314c"/><stop offset="0.7492" stop-color="#a70b44"/><stop offset="0.7579" stop-color="#9e0142"/><stop offset="0.7960" stop-color="#a10443"/><stop offset="0.8021" stop-color="#bb2149"/><stop offset="0.8073" stop-color="#e45549"/><stop offset="0.8099" stop-color="#f57446"/><stop offset="0.8151" stop-color="#fdc474"/><stop offset="0.8195" stop-color="#feeea2"/><stop offset="0.8221" stop-color="#fffebd"/><stop offset="0.8281" stop-color="#e2f399"/><stop offset="0.8403" stop-color="#79c9a5"/><stop offset="0.8489" stop-color="#4aa3b2"/><stop offset="0.8559" stop-color="#3486bc"/><stop offset="0.8741" stop-color="#5b53a4"/><stop offset="0.9998" stop-color="#5e4fa2"/></linearGradient><linearGradient id="b24" x1="0" y1="0" x2="0" y2="1"><stop offset="0.0000" stop-color="#3c7bb7"/><stop offset="0.0173" stop-color="#5e4fa2"/><stop offset="0.5515" stop-color="#5b52a4"/><stop offset="0.5593" stop-color="#3387bc"/><stop offset="0.5784" stop-color="#3a91b9"/><stop offset="0.5819" stop-color="#3880b9"/><stop offset="0.5871" stop-color="#486cb0"/><stop offset="0.5966" stop-color="#4372b2"/><stop offset="0.6001" stop-color="#3288bd"/><stop offset="0.6053" stop-color="#3c94b8"/><stop offset="0.6157" stop-color="#388fba"/><stop offset="0.6183" stop-color="#3682ba"/><stop offset="0.6243" stop-color="#4471b2"/><stop offset="0.6330" stop-color="#3f77b5"/><stop offset="0.6365" stop-color="#358bbc"/><stop offset="0.6443" stop-color="#3c94b8"/><stop offset="0.6521" stop-color="#3387bc"/><stop offset="0.6590" stop-color="#3e78b5"/><stop offset="0.6729" stop-color="#3584bb"/><stop offset="0.6790" stop-color="#3c93b8"/><stop offset="0.6911" stop-color="#60bba8"/><stop offset="0.7033" stop-color="#a2d9a4"/><stop offset="0.7145" stop-color="#e6f598"/><stop offset="0.7223" stop-color="#fffebd"/><stop offset="0.7293" stop-color="#fed17e"/><stop offset="0.7345" stop-color="#fa9a58"/><stop offset="0.7379" stop-color="#f36b44"/><stop offset="0.7440" stop-color="#c8304c"/><stop offset="0.7492" stop-color="#a20543"/><stop offset="0.7848" stop-color="#9e0142"/><stop offset="0.7856" stop-color="#a90d44"/><stop offset="0.7865" stop-color="#c1284a"/><stop offset="0.7882" stop-color="#f67949"/><stop offset="0.7891" stop-color="#fdb365"/><stop offset="0.7900" stop-color="#feda86"/><stop offset="0.7917" stop-color="#fffab7"/><stop offset="0.7926" stop-color="#fafdb7"/><stop offset="0.7943" stop-color="#e8f69b"/><stop offset="0.7995" stop-color="#5eb9a9"/><stop offset="0.8021" stop-color="#368cbb"/><stop offset="0.8065" stop-color="#515faa"/><stop offset="0.8117" stop-color="#5e4fa2"/><stop offset="0.9998" stop-color="#5e4fa2"/></linearGradient><linearGradient id="b25" x1="0" y1="0" x2="0" y2="1"><stop offset="0.0000" stop-color="#5e4fa2"/><stop offset="0.2983" stop-color="#5a54a5"/><stop offset="0.3659" stop-color="#4d65ad"/><stop offset="0.5021" stop-color="#3781ba"/><stop offset="0.5402" stop-color="#378ebb"/><stop offset="0.6287" stop-color="#70c6a5"/><stop offset="0.6937" stop-color="#b8e2a1"/><stop offset="0.7189" stop-color="#e8f69c"/><stop offset="0.7405" stop-color="#fffebe"/><stop offset="0.7657" stop-color="#feec9f"/><stop offset="0.8039" stop-color="#feeca0"/><stop offset="0.8281" stop-color="#fefebd"/><stop offset="0.8550" stop-color="#e0f299"/><stop offset="0.8862" stop-color="#72c7a5"/><stop offset="0.9079" stop-color="#3387bc"/><stop offset="0.9261" stop-color="#5b53a4"/><stop offset="0.9998" stop-color="#5e4fa2"/></linearGradient><linearGradient id="b26" x1="0" y1="0" x2="0" y2="1"><stop offset="0.0000" stop-color="#5e4fa2"/><stop offset="0.1899" stop-color="#5a54a4"/><stop offset="0.1986" stop-color="#3c7bb7"/><stop offset="0.2272" stop-color="#3f78b5"/><stop offset="0.2341" stop-color="#545ca8"/><stop offset="0.2454" stop-color="#4e64ac"/><stop offset="0.2541" stop-color="#3c7bb7"/><stop offset="0.2948" stop-color="#3f77b5"/><stop offset="0.3044" stop-color="#5d50a2"/><stop offset="0.4986" stop-color="#5b52a4"/><stop offset="0.5099" stop-color="#3b7cb7"/><stop offset="0.5298" stop-color="#3e78b5"/><stop offset="0.5420" stop-color="#4c66ad"/><stop offset="0.5715" stop-color="#466eb1"/><stop offset="0.5758" stop-color="#348abc"/><stop offset="0.5819" stop-color="#59b4ab"/><stop offset="0.6165" stop-color="#59b3ab"/><stop offset="0.6270" stop-color="#3389bd"/><stop offset="0.6807" stop-color="#3b92b9"/><stop offset="0.6989" stop-color="#71c6a5"/><stop offset="0.7102" stop-color="#aedea3"/><stop offset="0.7154" stop-color="#e6f598"/><stop offset="0.7206" stop-color="#ffffbe"/><stop offset="0.7267" stop-color="#fed17e"/><stop offset="0.7319" stop-color="#f98f53"/><stop offset="0.7345" stop-color="#f26944"/><stop offset="0.7397" stop-color="#cb334d"/><stop offset="0.7458" stop-color="#a00343"/><stop offset="0.8030" stop-color="#a20643"/><stop offset="0.8108" stop-color="#d7414e"/><stop offset="0.8143" stop-color="#f46d43"/><stop offset="0.8195" stop-color="#feca78"/><stop offset="0.8238" stop-color="#fffab6"/><stop offset="0.8247" stop-color="#fdfebc"/><stop offset="0.8281" stop-color="#e7f69a"/><stop offset="0.8359" stop-color="#86cfa5"/><stop offset="0.8420" stop-color="#53adae"/><stop offset="0.8481" stop-color="#3387bd"/><stop offset="0.8619" stop-color="#5e4fa2"/><stop offset="0.9998" stop-color="#5e4fa2"/></linearGradient><linearGradient id="b27" x1="0" y1="0" x2="0" y2="1"><stop offset="0.0000" stop-color="#5e4fa2"/><stop offset="0.0468" stop-color="#5b53a4"/><stop offset="0.0624" stop-color="#348abc"/><stop offset="0.0711" stop-color="#3b92b9"/><stop offset="0.0911" stop-color="#378ebb"/><stop offset="0.0945" stop-color="#3782ba"/><stop offset="0.1101" stop-color="#5e4fa2"/><stop offset="0.3677" stop-color="#5b52a4"/><stop offset="0.3867" stop-color="#3584bb"/><stop offset="0.4110" stop-color="#3584bb"/><stop offset="0.4301" stop-color="#5e4fa2"/><stop offset="0.5532" stop-color="#5a54a4"/><stop offset="0.5671" stop-color="#3b7db8"/><stop offset="0.6001" stop-color="#3287bd"/><stop offset="0.6148" stop-color="#69c3a5"/><stop offset="0.6226" stop-color="#95d5a4"/><stop offset="0.6469" stop-color="#92d3a4"/><stop offset="0.6599" stop-color="#61bda7"/><stop offset="0.6686" stop-color="#3486bc"/><stop offset="0.6755" stop-color="#3c7bb7"/><stop offset="0.6903" stop-color="#3b7cb7"/><stop offset="0.6946" stop-color="#358bbc"/><stop offset="0.7024" stop-color="#51abaf"/><stop offset="0.7067" stop-color="#7ecba5"/><stop offset="0.7145" stop-color="#e8f69b"/><stop offset="0.7180" stop-color="#fdfebc"/><stop offset="0.7232" stop-color="#fed582"/><stop offset="0.7284" stop-color="#fa9555"/><stop offset="0.7319" stop-color="#f36b43"/><stop offset="0.7371" stop-color="#cf384e"/><stop offset="0.7414" stop-color="#a30643"/><stop offset="0.7986" stop-color="#a20543"/><stop offset="0.7995" stop-color="#b41947"/><stop offset="0.8004" stop-color="#d43d4f"/><stop offset="0.8012" stop-color="#ed6346"/><stop offset="0.8021" stop-color="#fa9857"/><stop offset="0.8030" stop-color="#fec977"/><stop offset="0.8039" stop-color="#fee796"/><stop offset="0.8056" stop-color="#feffbe"/><stop offset="0.8082" stop-color="#dff299"/><stop offset="0.8117" stop-color="#7ecba5"/><stop offset="0.8134" stop-color="#5db7a9"/><stop offset="0.8177" stop-color="#3387bc"/><stop offset="0.8229" stop-color="#5160aa"/><stop offset="0.8299" stop-color="#5e4fa2"/><stop offset="0.9998" stop-color="#5e4fa2"/></linearGradient><linearGradient id="b28" x1="0" y1="0" x2="0" y2="1"><stop offset="0.0000" stop-color="#5e4fa2"/><stop offset="0.3798" stop-color="#5a54a5"/><stop offset="0.5576" stop-color="#358cbb"/><stop offset="0.6400" stop-color="#70c6a5"/><stop offset="0.6998" stop-color="#c3e79f"/><stop offset="0.7241" stop-color="#e9f69c"/><stop offset="0.7648" stop-color="#fcfebb"/><stop offset="0.8255" stop-color="#fcfeba"/><stop offset="0.8654" stop-color="#e3f499"/><stop offset="0.8932" stop-color="#97d5a4"/><stop offset="0.9131" stop-color="#5ab5ab"/><stop offset="0.9331" stop-color="#3486bc"/><stop offset="0.9634" stop-color="#5b53a4"/><stop offset="0.9998" stop-color="#5e4fa2"/></linearGradient><linearGradient id="b29" x1="0" y1="0" x2="0" y2="1"><stop offset="0.0000" stop-color="#5e4fa2"/><stop offset="0.1067" stop-color="#5a54a5"/><stop offset="0.1795" stop-color="#5a54a4"/><stop offset="0.5255" stop-color="#5a54a5"/><stop offset="0.5654" stop-color="#4f63ab"/><stop offset="0.6053" stop-color="#3b7cb7"/><stop offset="0.6608" stop-color="#368dbb"/><stop offset="0.6920" stop-color="#77c9a5"/><stop offset="0.7145" stop-color="#bee5a0"/><stop offset="0.7249" stop-color="#e8f69b"/><stop offset="0.7405" stop-color="#fffebd"/><stop offset="0.7666" stop-color="#fed481"/><stop offset="0.8065" stop-color="#fecb79"/><stop offset="0.8247" stop-color="#fff0a5"/><stop offset="0.8333" stop-color="#feffbe"/><stop offset="0.8446" stop-color="#dff299"/><stop offset="0.8619" stop-color="#71c6a5"/><stop offset="0.8802" stop-color="#348abc"/><stop offset="0.9018" stop-color="#5c52a3"/><stop offset="0.9998" stop-color="#5e4fa2"/></linearGradient><linearGradient id="b30" x1="0" y1="0" x2="0" y2="1"><stop offset="0.0000" stop-color="#5e4fa2"/><stop offset="0.3035" stop-color="#5a54a5"/><stop offset="0.4180" stop-color="#5061ab"/><stop offset="0.6400" stop-color="#397eb8"/><stop offset="0.6790" stop-color="#358cbb"/><stop offset="0.6998" stop-color="#73c7a5"/><stop offset="0.7215" stop-color="#d8ef9b"/><stop offset="0.7258" stop-color="#e9f69d"/><stop offset="0.7371" stop-color="#ffffbf"/><stop offset="0.7579" stop-color="#feca79"/><stop offset="0.7848" stop-color="#fdab60"/><stop offset="0.8125" stop-color="#fdbb6c"/><stop offset="0.8247" stop-color="#fee899"/><stop offset="0.8342" stop-color="#feffbe"/><stop offset="0.8446" stop-color="#e1f399"/><stop offset="0.8585" stop-color="#77c8a5"/><stop offset="0.8706" stop-color="#3f97b7"/><stop offset="0.8750" stop-color="#3387bc"/><stop offset="0.8949" stop-color="#5c52a3"/><stop offset="0.9998" stop-color="#5e4fa2"/></linearGradient><linearGradient id="b31" x1="0" y1="0" x2="0" y2="1"><stop offset="0.0000" stop-color="#5e4fa2"/><stop offset="0.3599" stop-color="#5a54a4"/><stop offset="0.3841" stop-color="#4570b1"/><stop offset="0.4778" stop-color="#3c7bb7"/><stop offset="0.5134" stop-color="#4e64ac"/><stop offset="0.6122" stop-color="#496aaf"/><stop offset="0.6469" stop-color="#3880b9"/><stop offset="0.6859" stop-color="#368cbb"/><stop offset="0.7041" stop-color="#71c6a5"/><stop offset="0.7180" stop-color="#c1e6a0"/><stop offset="0.7232" stop-color="#e7f59a"/><stop offset="0.7327" stop-color="#fffebe"/><stop offset="0.7466" stop-color="#fed582"/><stop offset="0.7614" stop-color="#f99355"/><stop offset="0.7709" stop-color="#f67948"/><stop offset="0.7986" stop-color="#f57145"/><stop offset="0.8091" stop-color="#fa9555"/><stop offset="0.8195" stop-color="#fdc574"/><stop offset="0.8307" stop-color="#fff9b5"/><stop offset="0.8325" stop-color="#fefebd"/><stop offset="0.8394" stop-color="#e0f299"/><stop offset="0.8533" stop-color="#6fc5a5"/><stop offset="0.8672" stop-color="#348abc"/><stop offset="0.8888" stop-color="#5c51a3"/><stop offset="0.9998" stop-color="#5e4fa2"/></linearGradient><linearGradient id="b32" x1="0" y1="0" x2="0" y2="1"><stop offset="0.0000" stop-color="#5e50a2"/><stop offset="0.0069" stop-color="#4570b1"/><stop offset="0.0113" stop-color="#338abc"/><stop offset="0.0165" stop-color="#479fb3"/><stop offset="0.0382" stop-color="#439bb5"/><stop offset="0.0416" stop-color="#3288bd"/><stop offset="0.0520" stop-color="#5d50a2"/><stop offset="0.4977" stop-color="#5c52a3"/><stop offset="0.5055" stop-color="#348abc"/><stop offset="0.5099" stop-color="#4ba4b1"/><stop offset="0.5359" stop-color="#48a0b3"/><stop offset="0.5394" stop-color="#3288bd"/><stop offset="0.5446" stop-color="#4b67ae"/><stop offset="0.5680" stop-color="#4a69ae"/><stop offset="0.5749" stop-color="#3288bd"/><stop offset="0.5888" stop-color="#3683bb"/><stop offset="0.5966" stop-color="#4c66ad"/><stop offset="0.6018" stop-color="#4470b2"/><stop offset="0.6070" stop-color="#3288bd"/><stop offset="0.6157" stop-color="#3683bb"/><stop offset="0.6235" stop-color="#4c66ad"/><stop offset="0.6304" stop-color="#486cb0"/><stop offset="0.6365" stop-color="#3288bd"/><stop offset="0.6469" stop-color="#3683bb"/><stop offset="0.6538" stop-color="#486cb0"/><stop offset="0.6608" stop-color="#4174b4"/><stop offset="0.6668" stop-color="#3288bd"/><stop offset="0.6798" stop-color="#3683bb"/><stop offset="0.6885" stop-color="#4273b3"/><stop offset="0.7015" stop-color="#3584bb"/><stop offset="0.7067" stop-color="#4199b6"/><stop offset="0.7215" stop-color="#6dc5a5"/><stop offset="0.7258" stop-color="#8cd1a4"/><stop offset="0.7336" stop-color="#e5f598"/><stop offset="0.7371" stop-color="#fcfeba"/><stop offset="0.7379" stop-color="#fffbb9"/><stop offset="0.7414" stop-color="#fed481"/><stop offset="0.7449" stop-color="#f99254"/><stop offset="0.7466" stop-color="#f26a44"/><stop offset="0.7492" stop-color="#d43c4f"/><stop offset="0.7518" stop-color="#a90d45"/><stop offset="0.7544" stop-color="#9e0142"/><stop offset="0.7874" stop-color="#9e0142"/><stop offset="0.7882" stop-color="#a70b44"/><stop offset="0.7891" stop-color="#bf254a"/><stop offset="0.7908" stop-color="#f57446"/><stop offset="0.7917" stop-color="#fdae61"/><stop offset="0.7926" stop-color="#fed683"/><stop offset="0.7943" stop-color="#fffab6"/><stop offset="0.7952" stop-color="#fbfdb9"/><stop offset="0.7969" stop-color="#e9f69d"/><stop offset="0.8021" stop-color="#60bba8"/><stop offset="0.8047" stop-color="#378ebb"/><stop offset="0.8073" stop-color="#466eb0"/><stop offset="0.8143" stop-color="#5d50a3"/><stop offset="0.9998" stop-color="#5e4fa2"/></linearGradient><linearGradient id="b33" x1="0" y1="0" x2="0" y2="1"><stop offset="0.0000" stop-color="#5e4fa2"/><stop offset="0.2896" stop-color="#5a54a4"/><stop offset="0.4041" stop-color="#5160aa"/><stop offset="0.4752" stop-color="#466eb1"/><stop offset="0.5151" stop-color="#3288bd"/><stop offset="0.5654" stop-color="#68c3a5"/><stop offset="0.5827" stop-color="#82cda5"/><stop offset="0.6157" stop-color="#76c8a5"/><stop offset="0.6365" stop-color="#6ac3a5"/><stop offset="0.6798" stop-color="#94d4a4"/><stop offset="0.7301" stop-color="#e9f69c"/><stop offset="0.7458" stop-color="#fffebd"/><stop offset="0.7553" stop-color="#fed783"/><stop offset="0.7648" stop-color="#f99053"/><stop offset="0.7700" stop-color="#ef6645"/><stop offset="0.7822" stop-color="#c72e4c"/><stop offset="0.7917" stop-color="#b41947"/><stop offset="0.8056" stop-color="#b91f48"/><stop offset="0.8143" stop-color="#db474d"/><stop offset="0.8203" stop-color="#f57547"/><stop offset="0.8273" stop-color="#fec776"/><stop offset="0.8325" stop-color="#feefa4"/><stop offset="0.8351" stop-color="#fffdbc"/><stop offset="0.8411" stop-color="#e6f598"/><stop offset="0.8533" stop-color="#84cea5"/><stop offset="0.8628" stop-color="#53adae"/><stop offset="0.8724" stop-color="#3387bd"/><stop offset="0.8958" stop-color="#5d51a3"/><stop offset="0.9998" stop-color="#5e4fa2"/></linearGradient><linearGradient id="b34" x1="0" y1="0" x2="0" y2="1"><stop offset="0.0000" stop-color="#5e4fa2"/><stop offset="0.1101" stop-color="#5a54a4"/><stop offset="0.2168" stop-color="#5a54a4"/><stop offset="0.3781" stop-color="#5a54a5"/><stop offset="0.4743" stop-color="#476cb0"/><stop offset="0.5307" stop-color="#358cbc"/><stop offset="0.6165" stop-color="#74c7a5"/><stop offset="0.7180" stop-color="#c6e89f"/><stop offset="0.7414" stop-color="#e9f69c"/><stop offset="0.7917" stop-color="#f4fbaf"/><stop offset="0.8411" stop-color="#eef8a5"/><stop offset="0.8602" stop-color="#ddf19a"/><stop offset="0.8940" stop-color="#8dd1a4"/><stop offset="0.9122" stop-color="#5cb7aa"/><stop offset="0.9331" stop-color="#3486bc"/><stop offset="0.9634" stop-color="#5b53a4"/><stop offset="0.9998" stop-color="#5e4fa2"/></linearGradient></defs><rect x="358.60" y="8.0" width="9.33" height="288.30" fill="url(#b0)"/><rect x="366.73" y="8.0" width="9.33" height="288.30" fill="url(#b1)"/><rect x="374.86" y="8.0" width="9.33" height="288.30" fill="url(#b2)"/><rect x="382.99" y="8.0" width="9.33" height="288.30" fill="url(#b3)"/><rect x="391.12" y="8.0" width="9.33" height="288.30" fill="url(#b4)"/><rect x="399.25" y="8.0" width="9.33" height="288.30" fill="url(#b5)"/><rect x="407.38" y="8.0" width="9.33" height="288.30" fill="url(#b6)"/><rect x="415.51" y="8.0" width="9.33" height="288.30" fill="url(#b7)"/><rect x="423.64" y="8.0" width="9.33" height="288.30" fill="url(#b8)"/><rect x="431.77" y="8.0" width="9.33" height="288.30" fill="url(#b9)"/><rect x="439.90" y="8.0" width="9.33" height="288.30" fill="url(#b10)"/><rect x="448.03" y="8.0" width="9.33" height="288.30" fill="url(#b11)"/><rect x="456.16" y="8.0" width="9.33" height="288.30" fill="url(#b12)"/><rect x="464.29" y="8.0" width="9.33" height="288.30" fill="url(#b13)"/><rect x="472.42" y="8.0" width="9.33" height="288.30" fill="url(#b14)"/><rect x="480.55" y="8.0" width="9.33" height="288.30" fill="url(#b15)"/><rect x="488.68" y="8.0" width="9.33" height="288.30" fill="url(#b16)"/><rect x="496.81" y="8.0" width="9.33" height="288.30" fill="url(#b17)"/><rect x="504.94" y="8.0" width="9.33" height="288.30" fill="url(#b18)"/><rect x="513.07" y="8.0" width="9.33" height="288.30" fill="url(#b19)"/><rect x="521.20" y="8.0" width="9.33" height="288.30" fill="url(#b20)"/><rect x="529.33" y="8.0" width="9.33" height="288.30" fill="url(#b21)"/><rect x="537.46" y="8.0" width="9.33" height="288.30" fill="url(#b22)"/><rect x="545.59" y="8.0" width="9.33" height="288.30" fill="url(#b23)"/><rect x="553.72" y="8.0" width="9.33" height="288.30" fill="url(#b24)"/><rect x="561.85" y="8.0" width="9.33" height="288.30" fill="url(#b25)"/><rect x="569.98" y="8.0" width="9.33" height="288.30" fill="url(#b26)"/><rect x="578.11" y="8.0" width="9.33" height="288.30" fill="url(#b27)"/><rect x="586.24" y="8.0" width="9.33" height="288.30" fill="url(#b28)"/><rect x="594.37" y="8.0" width="9.33" height="288.30" fill="url(#b29)"/><rect x="602.50" y="8.0" width="9.33" height="288.30" fill="url(#b30)"/><rect x="610.63" y="8.0" width="9.33" height="288.30" fill="url(#b31)"/><rect x="618.76" y="8.0" width="9.33" height="288.30" fill="url(#b32)"/><rect x="626.89" y="8.0" width="9.33" height="288.30" fill="url(#b33)"/><rect x="635.02" y="8.0" width="8.13" height="288.30" fill="url(#b34)"/><clipPath id="cb"><rect x="358.6" y="8" width="284.6" height="288.3"/></clipPath><g clip-path="url(#cb)"><polyline points="362.7,37.8 370.8,45.5 378.9,54.3 387.1,110.5 395.2,107.9 403.3,8.0 411.4,8.0 419.6,75.0 427.7,27.0 435.8,8.0 444.0,49.0 452.1,79.4 460.2,100.2 468.4,18.0 476.5,102.4 484.6,18.0 492.7,88.0 500.9,123.6 509.0,114.5 517.1,138.6 525.3,32.4 533.4,109.0 541.5,114.5 549.7,55.4 557.8,8.0 565.9,97.0 574.0,68.5 582.2,32.4 590.3,112.3 598.4,59.7 606.6,97.0 614.7,86.0 622.8,13.8 631.0,92.6 639.1,67.4" fill="none" stroke="#1a1a1a" stroke-width="0.45" stroke-dasharray="0.8 0.7" opacity="0.75"/><polyline points="362.7,213.6 370.8,211.8 378.9,211.8 387.1,192.4 395.2,186.0 403.3,209.0 411.4,221.0 419.6,212.7 427.7,213.6 435.8,214.0 444.0,213.0 452.1,212.0 460.2,209.0 468.4,219.0 476.5,209.0 484.6,208.0 492.7,192.4 500.9,199.8 509.0,203.5 517.1,186.9 525.3,218.3 533.4,186.0 541.5,187.8 549.7,218.3 557.8,221.0 565.9,211.8 574.0,217.4 582.2,219.0 590.3,193.4 598.4,198.0 606.6,205.4 614.7,218.3 622.8,222.0 631.0,212.8 639.1,181.4" fill="none" stroke="#1a1a1a" stroke-width="0.45" stroke-dasharray="0.8 0.7" opacity="0.75"/><polyline points="362.7,227.5 370.8,229.0 378.9,230.0 387.1,235.0 395.2,231.0 403.3,227.5 411.4,223.0 419.6,233.0 427.7,231.0 435.8,225.6 444.0,227.0 452.1,231.0 460.2,227.5 468.4,229.0 476.5,228.4 484.6,226.6 492.7,224.7 500.9,227.5 509.0,225.6 517.1,227.5 525.3,231.0 533.4,231.0 541.5,234.0 549.7,233.0 557.8,229.4 565.9,230.0 574.0,230.0 582.2,231.0 590.3,236.8 598.4,239.5 606.6,238.6 614.7,231.0 622.8,229.4 631.0,240.5 639.1,236.8" fill="none" stroke="#1a1a1a" stroke-width="0.45" stroke-dasharray="0.8 0.7" opacity="0.75"/><polyline points="362.7,238.6 370.8,238.6 378.9,238.6 387.1,249.6 395.2,251.5 403.3,238.6 411.4,223.8 419.6,240.4 427.7,238.6 435.8,229.0 444.0,235.8 452.1,240.8 460.2,240.4 468.4,238.6 476.5,246.0 484.6,238.6 492.7,246.0 500.9,247.8 509.0,246.0 517.1,249.6 525.3,234.9 533.4,246.0 541.5,244.5 549.7,240.4 557.8,235.0 565.9,244.0 574.0,238.6 582.2,238.6 590.3,246.0 598.4,244.0 606.6,244.0 614.7,236.8 622.8,233.0 631.0,242.3 639.1,240.4" fill="none" stroke="#1a1a1a" stroke-width="0.45" stroke-dasharray="0.8 0.7" opacity="0.75"/><polyline points="362.7,247.8 370.8,247.8 378.9,247.0 387.1,252.4 395.2,257.0 403.3,247.8 411.4,224.2 419.6,244.0 427.7,246.0 435.8,230.5 444.0,238.6 452.1,249.6 460.2,258.9 468.4,240.4 476.5,253.0 484.6,246.0 492.7,260.7 500.9,259.0 509.0,253.3 517.1,250.5 525.3,238.6 533.4,260.7 541.5,257.0 549.7,246.0 557.8,236.8 565.9,257.0 574.0,242.3 582.2,241.3 590.3,246.0 598.4,247.8 606.6,247.8 614.7,244.3 622.8,236.8 631.0,246.0 639.1,247.8" fill="none" stroke="#1a1a1a" stroke-width="0.45" stroke-dasharray="0.8 0.7" opacity="0.75"/><line x1="362.7" y1="217.5" x2="643.1" y2="217.5" stroke="#8b1a1a" stroke-width="0.7" stroke-dasharray="1.3 0.9"/></g><rect x="358.6" y="8" width="284.6" height="288.3" fill="none" stroke="#555" stroke-width="0.35" opacity=".6"/><text x="498.5" y="5.7" font-size="3.7" fill="#111" stroke="#111" stroke-width=".08" text-anchor="middle">Density heatmap of scale(df)</text><line x1="357.2" y1="294.8" x2="358.6" y2="294.8" stroke="#333" stroke-width=".4"/><text x="356.6" y="295.9" font-size="3.3" fill="#111" stroke="#111" stroke-width=".12" text-anchor="end">-2</text><line x1="357.2" y1="256.1" x2="358.6" y2="256.1" stroke="#333" stroke-width=".4"/><text x="356.6" y="257.2" font-size="3.3" fill="#111" stroke="#111" stroke-width=".12" text-anchor="end">-1</text><line x1="357.2" y1="217.4" x2="358.6" y2="217.4" stroke="#333" stroke-width=".4"/><text x="356.6" y="218.5" font-size="3.3" fill="#111" stroke="#111" stroke-width=".12" text-anchor="end">0</text><line x1="357.2" y1="178.7" x2="358.6" y2="178.7" stroke="#333" stroke-width=".4"/><text x="356.6" y="179.8" font-size="3.3" fill="#111" stroke="#111" stroke-width=".12" text-anchor="end">1</text><line x1="357.2" y1="140.0" x2="358.6" y2="140.0" stroke="#333" stroke-width=".4"/><text x="356.6" y="141.1" font-size="3.3" fill="#111" stroke="#111" stroke-width=".12" text-anchor="end">2</text><line x1="357.2" y1="101.3" x2="358.6" y2="101.3" stroke="#333" stroke-width=".4"/><text x="356.6" y="102.4" font-size="3.3" fill="#111" stroke="#111" stroke-width=".12" text-anchor="end">3</text><line x1="357.2" y1="62.6" x2="358.6" y2="62.6" stroke="#333" stroke-width=".4"/><text x="356.6" y="63.7" font-size="3.3" fill="#111" stroke="#111" stroke-width=".12" text-anchor="end">4</text><line x1="357.2" y1="23.9" x2="358.6" y2="23.9" stroke="#333" stroke-width=".4"/><text x="356.6" y="25.0" font-size="3.3" fill="#111" stroke="#111" stroke-width=".12" text-anchor="end">5</text><text x="350.2" y="152" font-size="3.2" fill="#222" text-anchor="middle" transform="rotate(-90 350.2 152)">scale(df)</text><line x1="643.2" y1="67.3" x2="648.6" y2="67.3" stroke="#333" stroke-width=".45"/><text x="649.6" y="68.4" font-size="3.2" fill="#111" stroke="#111" stroke-width=".1">100%</text><line x1="643.2" y1="181.2" x2="648.6" y2="181.2" stroke="#333" stroke-width=".45"/><text x="649.6" y="182.3" font-size="3.2" fill="#111" stroke="#111" stroke-width=".1">75%</text><line x1="643.2" y1="217.5" x2="648.8" y2="217.5" stroke="#111" stroke-width=".8"/><text x="649.4" y="218.6" font-size="3.2" fill="#111" stroke="#111" stroke-width=".1">mean</text><path d="M643.2 237.4h3.2M648.4 229q-2 0 -2 2.2V244.4q0 2.2 2 2.2" stroke="#333" stroke-width=".4" fill="none"/><text x="649.2" y="230.1" font-size="3.2" fill="#111" stroke="#111" stroke-width=".1">50%</text><text x="649.2" y="238.5" font-size="3.2" fill="#111" stroke="#111" stroke-width=".1">25%</text><text x="649.2" y="247.7" font-size="3.2" fill="#111" stroke="#111" stroke-width=".1">0%</text><defs><linearGradient id="lb" x1="0" y1="0" x2="0" y2="1"><stop offset="0" stop-color="#9E0142"/><stop offset="0.170" stop-color="#9E0142"/><stop offset="0.253" stop-color="#D53E4F"/><stop offset="0.336" stop-color="#F46D43"/><stop offset="0.419" stop-color="#FDAE61"/><stop offset="0.502" stop-color="#FEE08B"/><stop offset="0.585" stop-color="#FFFFBF"/><stop offset="0.668" stop-color="#E6F598"/><stop offset="0.751" stop-color="#ABDDA4"/><stop offset="0.834" stop-color="#66C2A5"/><stop offset="0.917" stop-color="#3288BD"/><stop offset="1.000" stop-color="#5E4FA2"/></linearGradient></defs><rect x="659.2" y="144.7" width="3.6" height="18.5" fill="url(#lb)"/><text x="658.6" y="143.6" font-size="3" font-weight="bold" fill="#222">density</text><text x="663.8" y="146.4" font-size="3" fill="#222" stroke="#222" stroke-width=".08">1.2</text><text x="663.8" y="151.4" font-size="3" fill="#222" stroke="#222" stroke-width=".08">1</text><text x="663.8" y="157.6" font-size="3" fill="#222" stroke="#222" stroke-width=".08">0.5</text><text x="663.8" y="163.2" font-size="3" fill="#222" stroke="#222" stroke-width=".08">0</text><text x="363.7" y="297.5" font-size="3.75" fill="#14142a" stroke="#14142a" stroke-width=".08" text-anchor="end" transform="rotate(-90 363.7 297.5)">hsa-miR-106a-5p</text><text x="371.8" y="297.5" font-size="3.75" fill="#14142a" stroke="#14142a" stroke-width=".08" text-anchor="end" transform="rotate(-90 371.8 297.5)">hsa-miR-106b-5p</text><text x="379.9" y="297.5" font-size="3.75" fill="#14142a" stroke="#14142a" stroke-width=".08" text-anchor="end" transform="rotate(-90 379.9 297.5)">hsa-miR-1246</text><text x="388.1" y="297.5" font-size="3.75" fill="#14142a" stroke="#14142a" stroke-width=".08" text-anchor="end" transform="rotate(-90 388.1 297.5)">hsa-miR-126-3p</text><text x="396.2" y="297.5" font-size="3.75" fill="#14142a" stroke="#14142a" stroke-width=".08" text-anchor="end" transform="rotate(-90 396.2 297.5)">hsa-miR-130a</text><text x="404.3" y="297.5" font-size="3.75" fill="#14142a" stroke="#14142a" stroke-width=".08" text-anchor="end" transform="rotate(-90 404.3 297.5)">hsa-miR-142-3p</text><text x="412.4" y="297.5" font-size="3.75" fill="#14142a" stroke="#14142a" stroke-width=".08" text-anchor="end" transform="rotate(-90 412.4 297.5)">hsa-miR-144</text><text x="420.6" y="297.5" font-size="3.75" fill="#14142a" stroke="#14142a" stroke-width=".08" text-anchor="end" transform="rotate(-90 420.6 297.5)">hsa-miR-150</text><text x="428.7" y="297.5" font-size="3.75" fill="#14142a" stroke="#14142a" stroke-width=".08" text-anchor="end" transform="rotate(-90 428.7 297.5)">hsa-miR-15a</text><text x="436.8" y="297.5" font-size="3.75" fill="#14142a" stroke="#14142a" stroke-width=".08" text-anchor="end" transform="rotate(-90 436.8 297.5)">hsa-miR-15b</text><text x="445.0" y="297.5" font-size="3.75" fill="#14142a" stroke="#14142a" stroke-width=".08" text-anchor="end" transform="rotate(-90 445.0 297.5)">hsa-miR-16</text><text x="453.1" y="297.5" font-size="3.75" fill="#14142a" stroke="#14142a" stroke-width=".08" text-anchor="end" transform="rotate(-90 453.1 297.5)">hsa-miR-185</text><text x="461.2" y="297.5" font-size="3.75" fill="#14142a" stroke="#14142a" stroke-width=".08" text-anchor="end" transform="rotate(-90 461.2 297.5)">hsa-miR-191</text><text x="469.4" y="297.5" font-size="3.75" fill="#14142a" stroke="#14142a" stroke-width=".08" text-anchor="end" transform="rotate(-90 469.4 297.5)">hsa-miR-19b</text><text x="477.5" y="297.5" font-size="3.75" fill="#14142a" stroke="#14142a" stroke-width=".08" text-anchor="end" transform="rotate(-90 477.5 297.5)">hsa-miR-20a</text><text x="485.6" y="297.5" font-size="3.75" fill="#14142a" stroke="#14142a" stroke-width=".08" text-anchor="end" transform="rotate(-90 485.6 297.5)">hsa-miR-21</text><text x="493.7" y="297.5" font-size="3.75" fill="#14142a" stroke="#14142a" stroke-width=".08" text-anchor="end" transform="rotate(-90 493.7 297.5)">hsa-miR-22</text><text x="501.9" y="297.5" font-size="3.75" fill="#14142a" stroke="#14142a" stroke-width=".08" text-anchor="end" transform="rotate(-90 501.9 297.5)">hsa-miR-223</text><text x="510.0" y="297.5" font-size="3.75" fill="#14142a" stroke="#14142a" stroke-width=".08" text-anchor="end" transform="rotate(-90 510.0 297.5)">hsa-miR-23a</text><text x="518.1" y="297.5" font-size="3.75" fill="#14142a" stroke="#14142a" stroke-width=".08" text-anchor="end" transform="rotate(-90 518.1 297.5)">hsa-miR-24</text><text x="526.3" y="297.5" font-size="3.75" fill="#14142a" stroke="#14142a" stroke-width=".08" text-anchor="end" transform="rotate(-90 526.3 297.5)">hsa-miR-25</text><text x="534.4" y="297.5" font-size="3.75" fill="#14142a" stroke="#14142a" stroke-width=".08" text-anchor="end" transform="rotate(-90 534.4 297.5)">hsa-miR-26a</text><text x="542.5" y="297.5" font-size="3.75" fill="#14142a" stroke="#14142a" stroke-width=".08" text-anchor="end" transform="rotate(-90 542.5 297.5)">hsa-miR-29a</text><text x="550.7" y="297.5" font-size="3.75" fill="#14142a" stroke="#14142a" stroke-width=".08" text-anchor="end" transform="rotate(-90 550.7 297.5)">hsa-miR-30d</text><text x="558.8" y="297.5" font-size="3.75" fill="#14142a" stroke="#14142a" stroke-width=".08" text-anchor="end" transform="rotate(-90 558.8 297.5)">hsa-miR-320e</text><text x="566.9" y="297.5" font-size="3.75" fill="#14142a" stroke="#14142a" stroke-width=".08" text-anchor="end" transform="rotate(-90 566.9 297.5)">hsa-miR-374a</text><text x="575.0" y="297.5" font-size="3.75" fill="#14142a" stroke="#14142a" stroke-width=".08" text-anchor="end" transform="rotate(-90 575.0 297.5)">hsa-miR-4454</text><text x="583.2" y="297.5" font-size="3.75" fill="#14142a" stroke="#14142a" stroke-width=".08" text-anchor="end" transform="rotate(-90 583.2 297.5)">hsa-miR-451a</text><text x="591.3" y="297.5" font-size="3.75" fill="#14142a" stroke="#14142a" stroke-width=".08" text-anchor="end" transform="rotate(-90 591.3 297.5)">hsa-miR-486</text><text x="599.4" y="297.5" font-size="3.75" fill="#14142a" stroke="#14142a" stroke-width=".08" text-anchor="end" transform="rotate(-90 599.4 297.5)">hsa-miR-92a</text><text x="607.6" y="297.5" font-size="3.75" fill="#14142a" stroke="#14142a" stroke-width=".08" text-anchor="end" transform="rotate(-90 607.6 297.5)">hsa-miR-93</text><text x="615.7" y="297.5" font-size="3.75" fill="#14142a" stroke="#14142a" stroke-width=".08" text-anchor="end" transform="rotate(-90 615.7 297.5)">hsa-let-7a</text><text x="623.8" y="297.5" font-size="3.75" fill="#14142a" stroke="#14142a" stroke-width=".08" text-anchor="end" transform="rotate(-90 623.8 297.5)">hsa-let-7b</text><text x="632.0" y="297.5" font-size="3.75" fill="#14142a" stroke="#14142a" stroke-width=".08" text-anchor="end" transform="rotate(-90 632.0 297.5)">hsa-let-7g</text><text x="640.1" y="297.5" font-size="3.75" fill="#14142a" stroke="#14142a" stroke-width=".08" text-anchor="end" transform="rotate(-90 640.1 297.5)">hsa-miR-199a</text></g><text x="675.6" y="26.2" font-size="17.6" fill="#000">B</text><g id="panelC"><rect x="186.3" y="347.8" width="292.3" height="446.6" fill="#ebebeb"/><line x1="221.9" y1="347.8" x2="221.9" y2="794.4" stroke="#f6f6f6" stroke-width=".7"/><line x1="307.3" y1="347.8" x2="307.3" y2="794.4" stroke="#f6f6f6" stroke-width=".7"/><line x1="392.7" y1="347.8" x2="392.7" y2="794.4" stroke="#f6f6f6" stroke-width=".7"/><line x1="478.1" y1="347.8" x2="478.1" y2="794.4" stroke="#f6f6f6" stroke-width=".7"/><line x1="264.6" y1="347.8" x2="264.6" y2="794.4" stroke="#fff" stroke-width=".85"/><line x1="350.0" y1="347.8" x2="350.0" y2="794.4" stroke="#fff" stroke-width=".85"/><line x1="435.4" y1="347.8" x2="435.4" y2="794.4" stroke="#fff" stroke-width=".85"/><line x1="186.3" y1="369.7" x2="478.6" y2="369.7" stroke="#f6f6f6" stroke-width=".7"/><line x1="186.3" y1="474.4" x2="478.6" y2="474.4" stroke="#f6f6f6" stroke-width=".7"/><line x1="186.3" y1="579.2" x2="478.6" y2="579.2" stroke="#f6f6f6" stroke-width=".7"/><line x1="186.3" y1="683.9" x2="478.6" y2="683.9" stroke="#f6f6f6" stroke-width=".7"/><line x1="186.3" y1="788.6" x2="478.6" y2="788.6" stroke="#f6f6f6" stroke-width=".7"/><line x1="186.3" y1="422.1" x2="478.6" y2="422.1" stroke="#fff" stroke-width=".85"/><line x1="186.3" y1="526.8" x2="478.6" y2="526.8" stroke="#fff" stroke-width=".85"/><line x1="186.3" y1="631.5" x2="478.6" y2="631.5" stroke="#fff" stroke-width=".85"/><line x1="186.3" y1="736.3" x2="478.6" y2="736.3" stroke="#fff" stroke-width=".85"/><line x1="264.6" y1="794.4" x2="264.6" y2="796.2" stroke="#333" stroke-width=".5"/><text x="264.6" y="802.6" font-size="5.9" fill="#4d4d4d" text-anchor="middle">−0.4</text><line x1="350.0" y1="794.4" x2="350.0" y2="796.2" stroke="#333" stroke-width=".5"/><text x="350.0" y="802.6" font-size="5.9" fill="#4d4d4d" text-anchor="middle">−0.2</text><line x1="435.4" y1="794.4" x2="435.4" y2="796.2" stroke="#333" stroke-width=".5"/><text x="435.4" y="802.6" font-size="5.9" fill="#4d4d4d" text-anchor="middle">0.0</text><line x1="184.5" y1="422.1" x2="186.3" y2="422.1" stroke="#333" stroke-width=".5"/><text x="183.4" y="424.1" font-size="5.9" fill="#4d4d4d" text-anchor="end">0.1</text><line x1="184.5" y1="526.8" x2="186.3" y2="526.8" stroke="#333" stroke-width=".5"/><text x="183.4" y="528.8" font-size="5.9" fill="#4d4d4d" text-anchor="end">0.0</text><line x1="184.5" y1="631.5" x2="186.3" y2="631.5" stroke="#333" stroke-width=".5"/><text x="183.4" y="633.5" font-size="5.9" fill="#4d4d4d" text-anchor="end">−0.1</text><line x1="184.5" y1="736.3" x2="186.3" y2="736.3" stroke="#333" stroke-width=".5"/><text x="183.4" y="738.3" font-size="5.9" fill="#4d4d4d" text-anchor="end">−0.2</text><line x1="174.6" y1="419.2" x2="174.6" y2="425.2" stroke="#334" stroke-width=".5"/><text x="332.6" y="810.7" font-size="7.5" fill="#222" text-anchor="middle">PC1 (12.83%)</text><text x="168" y="571.7" font-size="7.5" fill="#222" text-anchor="middle" transform="rotate(-90 168 571.7)">PC2 (10.82%)</text><g fill="#f8766d"><circle cx="399.9" cy="406.2" r="1.7"/><circle cx="386.8" cy="425.0" r="1.7"/><circle cx="416.7" cy="429.0" r="1.7"/><circle cx="395.7" cy="438.3" r="1.7"/><circle cx="404.8" cy="437.2" r="1.7"/><circle cx="404.8" cy="441.0" r="1.7"/><circle cx="415.4" cy="438.3" r="1.7"/><circle cx="411.6" cy="441.8" r="1.7"/><circle cx="424.9" cy="446.5" r="1.7"/><circle cx="399.9" cy="449.6" r="1.7"/><circle cx="419.1" cy="455.8" r="1.7"/><circle cx="419.1" cy="458.4" r="1.7"/><circle cx="413.6" cy="459.3" r="1.7"/><circle cx="412.1" cy="460.4" r="1.7"/><circle cx="418.7" cy="466.0" r="1.7"/><circle cx="416.5" cy="467.5" r="1.7"/><circle cx="405.4" cy="469.3" r="1.7"/><circle cx="419.1" cy="469.7" r="1.7"/><circle cx="396.6" cy="470.8" r="1.7"/><circle cx="412.5" cy="471.3" r="1.7"/><circle cx="423.1" cy="471.3" r="1.7"/><circle cx="428.0" cy="473.0" r="1.7"/><circle cx="412.1" cy="475.3" r="1.7"/><circle cx="418.3" cy="475.3" r="1.7"/><circle cx="381.0" cy="478.1" r="1.7"/><circle cx="404.8" cy="478.1" r="1.7"/><circle cx="424.2" cy="477.9" r="1.7"/><circle cx="426.5" cy="479.7" r="1.7"/><circle cx="422.0" cy="480.8" r="1.7"/><circle cx="406.5" cy="485.2" r="1.7"/><circle cx="408.7" cy="486.8" r="1.7"/><circle cx="412.1" cy="486.8" r="1.7"/><circle cx="417.6" cy="485.2" r="1.7"/><circle cx="415.4" cy="491.9" r="1.7"/><circle cx="418.3" cy="493.0" r="1.7"/><circle cx="403.2" cy="495.6" r="1.7"/><circle cx="410.5" cy="497.4" r="1.7"/><circle cx="413.2" cy="499.6" r="1.7"/><circle cx="416.5" cy="500.7" r="1.7"/><circle cx="420.5" cy="496.7" r="1.7"/><circle cx="416.9" cy="503.4" r="1.7"/><circle cx="414.3" cy="508.5" r="1.7"/><circle cx="415.8" cy="515.6" r="1.7"/><circle cx="407.6" cy="528.4" r="1.7"/><circle cx="412.7" cy="530.6" r="1.7"/><circle cx="417.6" cy="526.6" r="1.7"/><circle cx="416.9" cy="539.0" r="1.7"/><circle cx="370.0" cy="539.0" r="1.7"/><circle cx="199.2" cy="587.3" r="1.7"/><circle cx="322.1" cy="601.2" r="1.7"/><circle cx="352.8" cy="395.3" r="1.7"/><circle cx="381.7" cy="368.3" r="1.7"/><circle cx="363.5" cy="498.2" r="1.7"/><circle cx="433.5" cy="551.8" r="1.7"/><circle cx="441.4" cy="550.9" r="1.7"/><circle cx="457.9" cy="551.5" r="1.7"/><circle cx="449.2" cy="555.9" r="1.7"/><circle cx="400.3" cy="563.3" r="1.7"/><circle cx="443.3" cy="563.8" r="1.7"/><circle cx="421.5" cy="565.7" r="1.7"/><circle cx="419.3" cy="567.9" r="1.7"/><circle cx="419.7" cy="569.2" r="1.7"/><circle cx="438.1" cy="574.0" r="1.7"/><circle cx="423.0" cy="576.6" r="1.7"/><circle cx="426.7" cy="576.6" r="1.7"/><circle cx="413.9" cy="579.2" r="1.7"/><circle cx="424.5" cy="597.6" r="1.7"/><circle cx="417.3" cy="606.3" r="1.7"/><circle cx="421.7" cy="616.0" r="1.7"/><circle cx="408.2" cy="626.0" r="1.7"/><circle cx="423.0" cy="628.4" r="1.7"/><circle cx="415.0" cy="647.8" r="1.7"/><circle cx="434.1" cy="660.1" r="1.7"/><circle cx="410.4" cy="687.6" r="1.7"/><circle cx="454.1" cy="547.9" r="1.7"/><circle cx="464.8" cy="543.9" r="1.7"/><circle cx="461.9" cy="542.8" r="1.7"/><circle cx="458.1" cy="551.6" r="1.7"/><circle cx="434.4" cy="507.1" r="1.7"/><circle cx="432.8" cy="491.3" r="1.7"/><circle cx="427.8" cy="492.1" r="1.7"/><circle cx="464.3" cy="545.2" r="1.7"/><circle cx="446.5" cy="507.3" r="1.7"/><circle cx="457.7" cy="531.0" r="1.7"/><circle cx="462.1" cy="544.4" r="1.7"/><circle cx="446.1" cy="536.7" r="1.7"/><circle cx="461.7" cy="544.4" r="1.7"/><circle cx="430.9" cy="519.7" r="1.7"/><circle cx="448.7" cy="510.5" r="1.7"/><circle cx="464.7" cy="543.9" r="1.7"/><circle cx="449.2" cy="529.2" r="1.7"/><circle cx="443.2" cy="501.7" r="1.7"/><circle cx="442.7" cy="509.8" r="1.7"/><circle cx="437.0" cy="528.8" r="1.7"/><circle cx="453.8" cy="521.6" r="1.7"/><circle cx="425.9" cy="511.0" r="1.7"/><circle cx="447.8" cy="518.6" r="1.7"/><circle cx="449.6" cy="513.1" r="1.7"/><circle cx="442.5" cy="534.1" r="1.7"/><circle cx="456.1" cy="530.0" r="1.7"/><circle cx="448.7" cy="535.8" r="1.7"/><circle cx="435.1" cy="492.3" r="1.7"/><circle cx="442.9" cy="530.1" r="1.7"/><circle cx="448.6" cy="511.0" r="1.7"/><circle cx="437.7" cy="511.1" r="1.7"/><circle cx="451.4" cy="516.4" r="1.7"/><circle cx="446.1" cy="529.5" r="1.7"/><circle cx="454.6" cy="525.5" r="1.7"/><circle cx="447.9" cy="511.3" r="1.7"/><circle cx="433.4" cy="484.9" r="1.7"/><circle cx="439.5" cy="507.5" r="1.7"/><circle cx="441.6" cy="504.3" r="1.7"/><circle cx="430.8" cy="516.7" r="1.7"/><circle cx="432.8" cy="494.9" r="1.7"/><circle cx="429.7" cy="526.9" r="1.7"/><circle cx="428.9" cy="525.5" r="1.7"/><circle cx="452.8" cy="530.7" r="1.7"/><circle cx="464.0" cy="544.7" r="1.7"/><circle cx="435.4" cy="503.3" r="1.7"/><circle cx="454.5" cy="527.2" r="1.7"/><circle cx="445.6" cy="504.3" r="1.7"/><circle cx="459.8" cy="543.4" r="1.7"/><circle cx="452.6" cy="527.0" r="1.7"/><circle cx="446.7" cy="536.0" r="1.7"/><circle cx="441.8" cy="510.0" r="1.7"/><circle cx="435.2" cy="515.4" r="1.7"/><circle cx="427.5" cy="487.9" r="1.7"/><circle cx="452.5" cy="528.7" r="1.7"/><circle cx="462.1" cy="539.2" r="1.7"/><circle cx="445.3" cy="524.1" r="1.7"/><circle cx="442.3" cy="510.3" r="1.7"/><circle cx="457.2" cy="530.7" r="1.7"/><circle cx="442.6" cy="531.0" r="1.7"/><circle cx="463.2" cy="541.4" r="1.7"/><circle cx="458.2" cy="529.3" r="1.7"/><circle cx="425.5" cy="504.6" r="1.7"/><circle cx="449.0" cy="533.9" r="1.7"/><circle cx="428.6" cy="496.9" r="1.7"/><circle cx="447.5" cy="509.4" r="1.7"/><circle cx="442.8" cy="511.1" r="1.7"/><circle cx="428.9" cy="507.3" r="1.7"/><circle cx="454.9" cy="526.3" r="1.7"/><circle cx="431.0" cy="494.3" r="1.7"/><circle cx="459.1" cy="535.9" r="1.7"/><circle cx="445.0" cy="510.8" r="1.7"/><circle cx="445.1" cy="505.1" r="1.7"/><circle cx="427.4" cy="518.1" r="1.7"/><circle cx="435.7" cy="497.2" r="1.7"/><circle cx="453.2" cy="523.5" r="1.7"/><circle cx="462.0" cy="539.3" r="1.7"/><circle cx="461.3" cy="536.7" r="1.7"/><circle cx="434.8" cy="489.0" r="1.7"/><circle cx="439.4" cy="534.0" r="1.7"/><circle cx="436.9" cy="525.1" r="1.7"/><circle cx="446.4" cy="510.2" r="1.7"/><circle cx="443.7" cy="510.4" r="1.7"/><circle cx="446.2" cy="515.5" r="1.7"/><circle cx="448.2" cy="512.8" r="1.7"/><circle cx="460.5" cy="537.8" r="1.7"/><circle cx="441.9" cy="497.2" r="1.7"/><circle cx="430.0" cy="488.7" r="1.7"/><circle cx="435.4" cy="511.2" r="1.7"/><circle cx="427.8" cy="508.7" r="1.7"/><circle cx="431.8" cy="501.9" r="1.7"/><circle cx="433.9" cy="514.8" r="1.7"/><circle cx="451.3" cy="528.3" r="1.7"/><circle cx="446.7" cy="524.7" r="1.7"/><circle cx="430.9" cy="533.4" r="1.7"/><circle cx="439.9" cy="535.6" r="1.7"/><circle cx="429.4" cy="512.0" r="1.7"/><circle cx="448.8" cy="519.7" r="1.7"/><circle cx="456.6" cy="533.2" r="1.7"/><circle cx="445.3" cy="511.3" r="1.7"/><circle cx="447.2" cy="523.0" r="1.7"/><circle cx="442.8" cy="503.9" r="1.7"/><circle cx="430.0" cy="494.5" r="1.7"/><circle cx="438.8" cy="519.8" r="1.7"/><circle cx="438.2" cy="510.1" r="1.7"/><circle cx="433.6" cy="504.4" r="1.7"/><circle cx="445.1" cy="504.3" r="1.7"/><circle cx="427.1" cy="487.3" r="1.7"/><circle cx="429.6" cy="525.7" r="1.7"/><circle cx="450.3" cy="534.5" r="1.7"/><circle cx="442.4" cy="542.1" r="1.7"/><circle cx="444.2" cy="503.8" r="1.7"/><circle cx="451.8" cy="516.6" r="1.7"/><circle cx="429.2" cy="511.6" r="1.7"/><circle cx="459.9" cy="541.3" r="1.7"/><circle cx="454.9" cy="541.0" r="1.7"/><circle cx="440.0" cy="504.4" r="1.7"/><circle cx="454.2" cy="535.4" r="1.7"/><circle cx="452.3" cy="531.9" r="1.7"/><circle cx="439.3" cy="536.3" r="1.7"/><circle cx="444.8" cy="503.1" r="1.7"/><circle cx="444.2" cy="501.9" r="1.7"/><circle cx="459.3" cy="544.5" r="1.7"/><circle cx="453.6" cy="531.7" r="1.7"/><circle cx="438.2" cy="496.5" r="1.7"/><circle cx="459.9" cy="542.3" r="1.7"/><circle cx="444.1" cy="535.2" r="1.7"/><circle cx="424.2" cy="504.7" r="1.7"/><circle cx="439.5" cy="516.3" r="1.7"/><circle cx="435.3" cy="530.5" r="1.7"/><circle cx="456.3" cy="528.1" r="1.7"/><circle cx="447.5" cy="515.2" r="1.7"/><circle cx="438.3" cy="496.4" r="1.7"/><circle cx="457.7" cy="532.5" r="1.7"/><circle cx="460.3" cy="544.2" r="1.7"/><circle cx="463.7" cy="541.5" r="1.7"/><circle cx="441.2" cy="502.5" r="1.7"/><circle cx="433.3" cy="533.8" r="1.7"/><circle cx="429.2" cy="514.6" r="1.7"/><circle cx="454.5" cy="536.5" r="1.7"/><circle cx="426.8" cy="512.4" r="1.7"/><circle cx="436.9" cy="493.9" r="1.7"/><circle cx="441.8" cy="496.8" r="1.7"/><circle cx="442.7" cy="528.2" r="1.7"/><circle cx="463.0" cy="541.1" r="1.7"/><circle cx="439.9" cy="538.9" r="1.7"/><circle cx="430.6" cy="515.7" r="1.7"/><circle cx="448.5" cy="513.4" r="1.7"/><circle cx="439.7" cy="515.6" r="1.7"/><circle cx="433.9" cy="494.3" r="1.7"/><circle cx="427.2" cy="501.5" r="1.7"/><circle cx="445.4" cy="509.5" r="1.7"/><circle cx="424.9" cy="502.0" r="1.7"/><circle cx="441.2" cy="541.5" r="1.7"/><circle cx="430.5" cy="496.7" r="1.7"/><circle cx="428.2" cy="503.8" r="1.7"/><circle cx="457.7" cy="532.6" r="1.7"/><circle cx="435.2" cy="538.2" r="1.7"/><circle cx="426.8" cy="514.9" r="1.7"/><circle cx="444.7" cy="513.1" r="1.7"/><circle cx="431.9" cy="524.1" r="1.7"/><circle cx="450.1" cy="532.7" r="1.7"/><circle cx="438.5" cy="521.4" r="1.7"/><circle cx="440.9" cy="493.9" r="1.7"/><circle cx="446.0" cy="526.3" r="1.7"/><circle cx="454.7" cy="526.5" r="1.7"/><circle cx="446.7" cy="512.6" r="1.7"/><circle cx="442.0" cy="501.6" r="1.7"/><circle cx="433.9" cy="507.4" r="1.7"/><circle cx="447.1" cy="535.2" r="1.7"/><circle cx="435.2" cy="517.4" r="1.7"/><circle cx="429.0" cy="502.7" r="1.7"/><circle cx="432.2" cy="537.1" r="1.7"/><circle cx="433.8" cy="500.2" r="1.7"/><circle cx="444.1" cy="511.9" r="1.7"/><circle cx="449.7" cy="523.4" r="1.7"/><circle cx="428.3" cy="495.8" r="1.7"/><circle cx="436.3" cy="503.3" r="1.7"/><circle cx="431.8" cy="543.7" r="1.7"/><circle cx="451.8" cy="517.7" r="1.7"/><circle cx="432.5" cy="487.0" r="1.7"/><circle cx="452.8" cy="529.4" r="1.7"/><circle cx="435.9" cy="506.8" r="1.7"/><circle cx="435.2" cy="528.3" r="1.7"/><circle cx="442.7" cy="524.0" r="1.7"/><circle cx="453.9" cy="529.2" r="1.7"/><circle cx="428.4" cy="499.6" r="1.7"/><circle cx="426.1" cy="488.5" r="1.7"/><circle cx="435.9" cy="522.9" r="1.7"/><circle cx="459.8" cy="535.4" r="1.7"/><circle cx="446.0" cy="510.1" r="1.7"/><circle cx="444.5" cy="524.3" r="1.7"/><circle cx="451.8" cy="521.2" r="1.7"/><circle cx="446.2" cy="506.1" r="1.7"/><circle cx="434.5" cy="503.8" r="1.7"/><circle cx="441.0" cy="504.8" r="1.7"/><circle cx="429.7" cy="501.9" r="1.7"/><circle cx="440.5" cy="514.1" r="1.7"/><circle cx="449.6" cy="518.0" r="1.7"/><circle cx="444.4" cy="535.8" r="1.7"/><circle cx="453.9" cy="525.4" r="1.7"/><circle cx="434.5" cy="504.6" r="1.7"/><circle cx="456.8" cy="528.8" r="1.7"/><circle cx="456.0" cy="532.6" r="1.7"/><circle cx="438.7" cy="501.5" r="1.7"/><circle cx="445.9" cy="515.2" r="1.7"/><circle cx="436.2" cy="517.9" r="1.7"/><circle cx="458.0" cy="529.5" r="1.7"/><circle cx="431.3" cy="537.7" r="1.7"/><circle cx="451.6" cy="522.4" r="1.7"/><circle cx="448.3" cy="510.4" r="1.7"/><circle cx="442.2" cy="544.7" r="1.7"/><circle cx="456.3" cy="531.5" r="1.7"/><circle cx="429.3" cy="520.8" r="1.7"/><circle cx="453.2" cy="528.8" r="1.7"/><circle cx="453.0" cy="519.5" r="1.7"/><circle cx="441.2" cy="499.2" r="1.7"/><circle cx="443.2" cy="527.6" r="1.7"/><circle cx="448.7" cy="511.3" r="1.7"/><circle cx="458.5" cy="537.2" r="1.7"/><circle cx="447.0" cy="528.0" r="1.7"/><circle cx="438.2" cy="511.6" r="1.7"/><circle cx="451.2" cy="516.0" r="1.7"/><circle cx="437.6" cy="508.9" r="1.7"/><circle cx="445.8" cy="518.5" r="1.7"/><circle cx="440.0" cy="525.6" r="1.7"/><circle cx="451.6" cy="522.3" r="1.7"/><circle cx="427.9" cy="507.3" r="1.7"/><circle cx="449.5" cy="536.2" r="1.7"/><circle cx="441.6" cy="506.6" r="1.7"/><circle cx="446.3" cy="505.2" r="1.7"/><circle cx="447.3" cy="508.7" r="1.7"/><circle cx="431.3" cy="525.8" r="1.7"/><circle cx="438.5" cy="509.7" r="1.7"/><circle cx="444.6" cy="526.8" r="1.7"/><circle cx="442.9" cy="499.0" r="1.7"/><circle cx="446.3" cy="522.9" r="1.7"/><circle cx="457.2" cy="528.5" r="1.7"/><circle cx="436.2" cy="492.2" r="1.7"/><circle cx="441.2" cy="510.3" r="1.7"/><circle cx="439.6" cy="525.2" r="1.7"/><circle cx="432.5" cy="484.3" r="1.7"/><circle cx="451.2" cy="525.9" r="1.7"/><circle cx="454.3" cy="525.4" r="1.7"/><circle cx="432.4" cy="497.5" r="1.7"/><circle cx="443.9" cy="504.3" r="1.7"/><circle cx="457.5" cy="527.5" r="1.7"/><circle cx="446.0" cy="504.9" r="1.7"/><circle cx="445.5" cy="503.8" r="1.7"/><circle cx="429.4" cy="491.6" r="1.7"/><circle cx="450.2" cy="529.2" r="1.7"/><circle cx="442.8" cy="497.1" r="1.7"/><circle cx="431.0" cy="490.7" r="1.7"/><circle cx="461.2" cy="537.7" r="1.7"/><circle cx="447.7" cy="522.9" r="1.7"/><circle cx="464.2" cy="544.2" r="1.7"/><circle cx="447.4" cy="522.0" r="1.7"/><circle cx="438.7" cy="509.8" r="1.7"/><circle cx="461.6" cy="539.2" r="1.7"/><circle cx="461.5" cy="543.9" r="1.7"/><circle cx="426.4" cy="515.3" r="1.7"/><circle cx="448.0" cy="530.4" r="1.7"/><circle cx="435.1" cy="510.6" r="1.7"/><circle cx="437.1" cy="509.3" r="1.7"/><circle cx="423.1" cy="493.6" r="1.7"/><circle cx="453.3" cy="533.0" r="1.7"/><circle cx="455.7" cy="540.7" r="1.7"/><circle cx="451.4" cy="516.3" r="1.7"/><circle cx="429.6" cy="496.7" r="1.7"/><circle cx="437.9" cy="514.6" r="1.7"/><circle cx="420.5" cy="484.0" r="1.7"/><circle cx="453.9" cy="523.9" r="1.7"/><circle cx="441.0" cy="517.4" r="1.7"/><circle cx="446.1" cy="505.5" r="1.7"/><circle cx="430.6" cy="504.9" r="1.7"/><circle cx="427.5" cy="503.5" r="1.7"/><circle cx="426.1" cy="503.1" r="1.7"/><circle cx="443.9" cy="529.0" r="1.7"/><circle cx="442.0" cy="504.1" r="1.7"/><circle cx="435.3" cy="528.6" r="1.7"/><circle cx="429.9" cy="522.7" r="1.7"/><circle cx="463.7" cy="544.6" r="1.7"/><circle cx="431.9" cy="491.1" r="1.7"/><circle cx="436.2" cy="524.2" r="1.7"/><circle cx="432.4" cy="504.0" r="1.7"/><circle cx="448.7" cy="523.3" r="1.7"/><circle cx="435.7" cy="494.6" r="1.7"/><circle cx="447.0" cy="524.1" r="1.7"/><circle cx="450.4" cy="520.7" r="1.7"/><circle cx="450.9" cy="522.1" r="1.7"/><circle cx="458.9" cy="533.2" r="1.7"/><circle cx="435.2" cy="514.5" r="1.7"/><circle cx="442.1" cy="531.8" r="1.7"/><circle cx="452.8" cy="526.5" r="1.7"/><circle cx="425.7" cy="484.0" r="1.7"/><circle cx="441.0" cy="506.7" r="1.7"/><circle cx="451.4" cy="528.7" r="1.7"/><circle cx="444.1" cy="505.5" r="1.7"/><circle cx="441.3" cy="517.2" r="1.7"/><circle cx="449.3" cy="522.2" r="1.7"/><circle cx="440.7" cy="516.7" r="1.7"/><circle cx="446.5" cy="517.9" r="1.7"/><circle cx="443.0" cy="508.3" r="1.7"/><circle cx="448.6" cy="528.9" r="1.7"/><circle cx="439.1" cy="533.3" r="1.7"/><circle cx="443.5" cy="504.9" r="1.7"/><circle cx="438.0" cy="512.5" r="1.7"/><circle cx="455.0" cy="527.2" r="1.7"/><circle cx="458.9" cy="532.1" r="1.7"/><circle cx="431.2" cy="538.0" r="1.7"/><circle cx="429.1" cy="526.1" r="1.7"/><circle cx="446.4" cy="520.8" r="1.7"/><circle cx="439.6" cy="493.9" r="1.7"/><circle cx="440.5" cy="526.8" r="1.7"/><circle cx="450.7" cy="527.4" r="1.7"/><circle cx="444.9" cy="508.5" r="1.7"/><circle cx="435.2" cy="524.4" r="1.7"/><circle cx="452.9" cy="539.7" r="1.7"/><circle cx="450.3" cy="531.7" r="1.7"/><circle cx="436.8" cy="509.6" r="1.7"/><circle cx="448.9" cy="518.7" r="1.7"/><circle cx="433.0" cy="517.9" r="1.7"/><circle cx="449.6" cy="527.3" r="1.7"/><circle cx="446.6" cy="527.7" r="1.7"/><circle cx="441.9" cy="531.4" r="1.7"/><circle cx="447.7" cy="515.9" r="1.7"/><circle cx="460.7" cy="540.3" r="1.7"/><circle cx="443.1" cy="513.7" r="1.7"/><circle cx="442.6" cy="535.9" r="1.7"/><circle cx="461.6" cy="539.8" r="1.7"/><circle cx="444.3" cy="534.8" r="1.7"/><circle cx="437.1" cy="534.6" r="1.7"/><circle cx="428.4" cy="509.8" r="1.7"/><circle cx="438.8" cy="536.1" r="1.7"/><circle cx="436.9" cy="516.4" r="1.7"/><circle cx="430.9" cy="538.3" r="1.7"/><circle cx="443.3" cy="511.4" r="1.7"/><circle cx="459.8" cy="537.7" r="1.7"/><circle cx="459.6" cy="534.0" r="1.7"/><circle cx="442.8" cy="522.1" r="1.7"/><circle cx="432.1" cy="543.1" r="1.7"/><circle cx="431.6" cy="546.4" r="1.7"/><circle cx="432.7" cy="549.2" r="1.7"/><circle cx="433.6" cy="552.0" r="1.7"/><circle cx="438.2" cy="548.1" r="1.7"/><circle cx="441.5" cy="551.4" r="1.7"/><circle cx="436.6" cy="539.8" r="1.7"/><circle cx="438.2" cy="542.0" r="1.7"/><circle cx="440.4" cy="545.3" r="1.7"/><circle cx="428.8" cy="537.0" r="1.7"/><circle cx="431.0" cy="538.7" r="1.7"/><circle cx="421.6" cy="529.8" r="1.7"/><circle cx="425.5" cy="530.4" r="1.7"/></g><g fill="#00bfc4"><circle cx="442.2" cy="584.7" r="1.7"/><circle cx="446.4" cy="590.6" r="1.7"/><circle cx="447.7" cy="593.5" r="1.7"/><circle cx="452.3" cy="598.3" r="1.7"/><circle cx="450.1" cy="604.6" r="1.7"/><circle cx="448.3" cy="613.3" r="1.7"/><circle cx="449.0" cy="616.8" r="1.7"/><circle cx="445.5" cy="618.1" r="1.7"/><circle cx="439.0" cy="626.0" r="1.7"/><circle cx="442.7" cy="627.3" r="1.7"/><circle cx="431.5" cy="629.5" r="1.7"/><circle cx="435.5" cy="630.1" r="1.7"/><circle cx="426.7" cy="637.3" r="1.7"/><circle cx="419.5" cy="648.3" r="1.7"/><circle cx="433.3" cy="649.1" r="1.7"/><circle cx="434.8" cy="652.6" r="1.7"/><circle cx="422.3" cy="660.3" r="1.7"/><circle cx="423.7" cy="660.3" r="1.7"/><circle cx="426.5" cy="662.7" r="1.7"/><circle cx="427.6" cy="662.2" r="1.7"/><circle cx="430.6" cy="676.9" r="1.7"/><circle cx="422.8" cy="697.4" r="1.7"/><circle cx="413.7" cy="699.6" r="1.7"/><circle cx="411.0" cy="702.4" r="1.7"/><circle cx="406.4" cy="710.4" r="1.7"/><circle cx="412.6" cy="710.4" r="1.7"/><circle cx="414.8" cy="723.8" r="1.7"/><circle cx="407.0" cy="725.6" r="1.7"/><circle cx="410.6" cy="744.6" r="1.7"/><circle cx="401.9" cy="753.3" r="1.7"/><circle cx="398.3" cy="774.1" r="1.7"/></g><text x="489" y="560.8" font-size="7.3" fill="#222">samples</text><rect x="488" y="565.4" width="13.1" height="23.5" fill="#f2f2f2"/><circle cx="494.6" cy="571.5" r="1.6" fill="#f8766d"/><circle cx="494.6" cy="582.8" r="1.6" fill="#00bfc4"/><text x="503.9" y="573.7" font-size="5.9" fill="#222">Case</text><text x="503.9" y="585" font-size="5.9" fill="#222">Control</text><text x="140.2" y="373" font-size="16.6" fill="#000">C</text></g></svg></body></html>
